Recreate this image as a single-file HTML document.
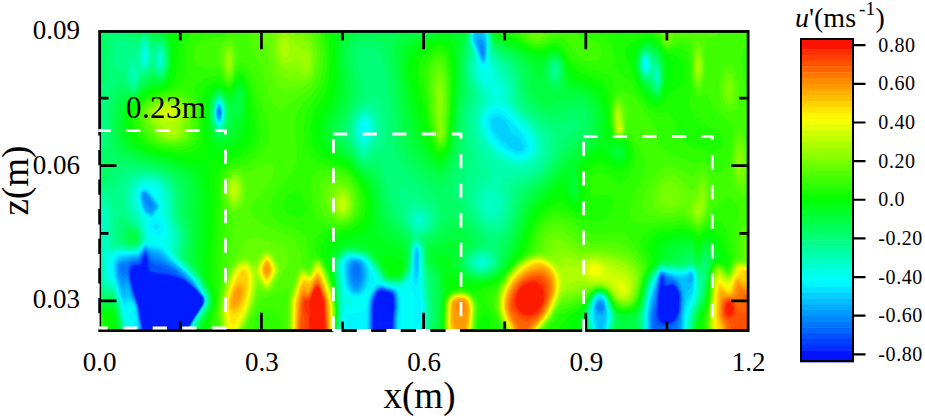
<!DOCTYPE html><html><head><meta charset="utf-8"><style>html,body{margin:0;padding:0;background:#fff;width:925px;height:419px;overflow:hidden}svg{display:block}text{font-family:"Liberation Serif", serif}</style></head><body>
<svg width="925" height="419" viewBox="0 0 925 419">
<rect width="925" height="419" fill="#fff"/>
<defs><clipPath id="pc"><rect x="100" y="32" width="648" height="298"/></clipPath></defs>
<g clip-path="url(#pc)"><rect x="100.5" y="32.5" width="647.0" height="297.0" fill="#001bff"/>
<path fill="#002eff" fill-rule="evenodd" d="M102 32.5l645.5 0 0 297 -355.3 0 .1-12 1.2-9 -.4-12 -1.4-2.5 -1.5-1 -9-2.6 -2.7 1.6 -1.8 2.4 -2.9 8.1 -.7 27 -186.5 0 6.9-12 8.2-12 1.5-4.5 -.6-3 -7.5-8.9 -6-5.2 -7.5-5 -13.5-4 -9.1-.7 -9-1.7 -1.8-3 -1.1-9 -1.6-4 -1.5 1 -1.7 6 -1.2 1.5 -6.1 .8 -3 1.4 -1.4 2.3 -.5 3 .5 6 1.9 9 6.8 22.5 3.1 19.5 -41.9 0 0-297zM661.6 280l.1 4.5 -1.9 4.5 -.9 4.5 -1 19.5 1.4 6 1.1 1.9 3 1.9 4.5 .2 3-.8 4.5-4 3-6.7 .6-15 -2.1-6.8 -1.5-2.4 -3-1.8 -6 1.2 -2.1-.7 -1.9-1.5 -.5-5.8z"/>
<path fill="#0040ff" fill-rule="evenodd" d="M102 32.5l645.5 0 0 297 -354.8 0 .1-12 1.3-9 -.5-12 -1.6-3 -1.8-1.1 -9-2.5 -1.7 .6 -2.8 2.8 -3.1 7.7 -.7 6 -.3 22.5 -185.8 0 7-12 8.1-12 1.5-4.5 -.8-3.4 -6-7.5 -13.5-10.9 -15-4.9 -7.6-.5 -10.5-2.2 -1.5-3.6 -1.1-9 -1.9-4.3 -1.5 1 -3 8.2 -1.5 .8 -6 .9 -1.5 1 -1.9 2.9 -.4 3 .5 6 2.4 10.5 6.1 19.5 3.4 21 -41.6 0 0-297zM661.8 277l-1.4 3 -.2 6 -1.7 7.5 -1.2 19.5 .5 4.5 2.5 4.5 3.1 1.5 6-.1 5-2.9 2.9-4.5 1.5-4.5 .7-13.5 -.5-4.5 -2.1-4.9 -3-3.4 -3-.3 -4.5 1.1 -1.5-.7 -1.2-2.3 -.3-4.5 -1.5-1.6z"/>
<path fill="#0052ff" fill-rule="evenodd" d="M102 32.5l645.5 0 0 297 -354.3 0 .1-12 1.3-9 -.5-12 -1.4-3 -2-1.5 -9.5-2.7 -2.6 1.2 -1.9 2 -3.6 8.5 -.7 6 -.3 22.5 -185 0 6.9-12 8.1-12 1.5-4.5 -1-3.8 -7.5-8.9 -9-7.6 -4.5-2.8 -13.5-4.5 -9.1-.8 -7.9-1.6 -1.1-1.5 -.5-6 -2.3-7.5 -1.7-2.8 -1.5 1 -4 9.3 -8 2.1 -2 2.4 -.7 3 .5 7.5 3.3 13.5 4.9 14.6 3.6 18.4 .3 4.5 -41.4 0 0-297zM660.9 277l-2.9 16.5 -1.8 21 .5 3 2.2 4.7 4.5 2.4 6-.3 3-1.3 2.9-2.5 2.6-4.5 1.4-4.5 .6-13.5 -.4-4.5 -2.6-5.9 -3-3.3 -3-.3 -4.5 1 -.9-.5 -.9-1.5 -.9-6 -1.8-1.2z"/>
<path fill="#0064ff" fill-rule="evenodd" d="M102 32.5l645.5 0 0 297 -353.9 0 .2-12 1.2-9 -.4-12 -1.2-3 -1.7-1.6 -10.5-3.1 -3 1.4 -1.7 1.8 -3.9 9 -.7 6 -.3 22.5 -184.3 0 15-24 1.4-4.5 -.4-3 -6.7-8.6 -12-10.4 -21.4-11 -11.7-4.6 -1.5-1.8 -3-8 -1.5-1.6 -1.5 .9 -4.5 9.3 -6 1.5 -3 1.8 -1.3 2.5 -.5 3 .7 7.5 2.1 9 6.7 21 3.4 21 -41.1 0 0-297zM661.3 275.5l-1.5 3 -2.1 13.5 -1.4 15 -1.5 7.5 .7 6 1.9 4 3 1.5 7.5-.1 6-2.7 3-3.8 2.6-6.4 .9-13.5 -.5-6 -2.3-6 -2.2-3.1 -3-1.7 -6 .9 -1.9-6.6 -1.1-1.5 -1.5-.5z"/>
<path fill="#0076ff" fill-rule="evenodd" d="M102 32.5l645.5 0 0 297 -77.8 0 5.7-5.8 3.8-7.7 1.2-6 .4-15 -1.9-6 -3.5-5.8 -3-1.9 -4.6 .2 -3.6-6 -2.3-1.2 -1.5 1.2 -1.1 3 -2.4 15 -1 10.5 -3 11.5 0 8.8 .8 5.2 -259.6 0 .1-12 1.3-10.5 0-7.5 -.8-4.5 -3-3.6 -10.5-3.1 -3 1.3 -2.3 2.4 -3.8 9 -.7 6 -.2 22.5 -183.7 0 15.7-25.5 .7-4.5 -1.2-3 -6.1-7.5 -7.5-7.1 -16.5-12.3 -9.1-4.6 -12-4.3 -1.5-1.5 -3-7.1 -1.5-1.2 -1.5 .9 -4.5 8.5 -7.5 2.2 -3 2.1 -1.3 4.9 .6 6 2.8 12 6.9 21.1 3.4 20.9 -40.9 0 0-297z"/>
<path fill="#0089ff" fill-rule="evenodd" d="M102 32.5l645.5 0 0 297 -70.3 0 .2-4.5 3.6-15 .5-12 -.7-6 -2.5-6 -2.9-4.4 -3-2 -4.5-1.2 -4.4-4.4 -1.6-.4 -1.5 1.1 -1.5 3.8 -4.4 27 -2.7 9 -.3 9 .7 6 -257.7 0 .1-10.5 1.4-12 -.8-12 -1.8-3 -1.7-1.2 -10.5-3 -3 1.2 -2.9 3 -3.6 9 -.7 6 -.3 22.5 -182.9 0 15.6-25.5 .7-4.5 -1.2-3 -4.8-6.3 -7.5-7.8 -13.5-11.5 -4.5-3.2 -10.6-5.5 -10.5-3.9 -1.5-1.6 -2.5-5.2 -2-1.6 -1.5 .9 -4.5 8 -9 2.5 -4.5 3.1 -4.5-.2 -1.6 .8 -.5 1.5 .6 4.7 1.5 3.4 1.5 1.2 3-1.8 1.5 1.8 4.7 17.7 4.4 10.5 4.5 25.5 -40.6 0 0-297zM218.7 110.5l-.3 3 .9 1.5 .5-3 -.7-2.3zM353.2 265l-1.3 4.5 .8 5.5 1.5 2.7 1.5 1.1 1.5 0 1.5-1.2 1.5-5.1 -.8-6 -2.2-2.5 -1.5-.4 -1.5 .5zM599.7 307l-.3 1.5 1 .5 .5-.5 -.5-1.8z"/>
<path fill="#009bff" fill-rule="evenodd" d="M102 32.5l645.5 0 0 297 -68.3 0 3-30 -.1-4.5 -1.1-4.5 -3.3-7.5 -2.3-3 -2.3-1.5 -5.2-1.7 -4.5-3.4 -1.5-.4 -1.5 1 -1.9 4.5 -4.1 21.1 -3.6 14.9 .4 15 -256.2 0 .1-10.5 1.3-12 -.7-12 -1.6-3 -2.4-1.7 -10.5-3 -3 1.1 -2.4 2.1 -2.6 4.5 -1.6 4.5 -1.1 7.5 -.3 22.5 -182.2 0 6.9-12 8.1-12 1.4-4.5 -1.2-4.5 -12.6-14.9 -13.3-12.1 -18.3-11.4 -7.5-2.6 -4.2-5.5 -1.8-1 -1.5 .9 -4.5 7.6 -19.5 5.7 -1.5 1.3 -.5 2 .5 6.3 3 7.1 1.5 1.1 3-2.4 1.5 1.3 1.5 3.8 2.6 9.8 4.9 11.3 4.3 24.7 -40.3 0 0-297zM479.7 44.5l.6 6.9 1.5 3.7 1.5 .6 .7-3.7 -.7-6.1 -1.5-2 -1.5-.2zM218.3 109l-.7 1.5 0 3.9 1.5 2.6 .4-.5 1.1-2.2 .1-2.3 -1.6-3.9zM143.9 194.5l-.5 1.5 .6 3 3 6.3 3 2.2 1.5 .2 1.2-1.2 -2.9-7.5 -4-4.5 -1.8-.2zM354.4 262l-1.7 .9 -1.6 2.1 -1 4.5 .1 4.5 2.5 9 2.5 3 2 .2 3-3.6 1.5-3.8 .6-6.3 -1.7-7.5 -1.9-2.1 -3-1zM598.9 304l-1.5 2 0 3.4 1.5 1.8 1.5 .4 1.5-.6 1.3-2.5 -.7-3 -2.1-1.8 -1.5 .3z"/>
<path fill="#00adff" fill-rule="evenodd" d="M102 32.5l645.5 0 0 297 -67.1 0 2.5-31.5 -1-7.5 -2.9-7.5 -2.1-3.1 -3-2.2 -6-2 -6-3.3 -1.5 .9 -1.8 3.7 -6.7 27 -2.2 12 .6 13.5 -254.8 0 .1-10.5 1.3-10.5 0-9 -.7-4.5 -3-4.5 -12-3.7 -3 1 -3 2.7 -1.9 3 -2.2 6 -1 6 -.4 24 -181.4 0 6.8-11.8 8.1-12.2 1.4-4.5 -1.1-4.5 -12.9-16.1 -12-11.2 -19.6-14.1 -3-1.4 -4.5-.9 -4.5-4.1 -1.5-.6 -1.5 .9 -4.5 7.2 -10.9 2.8 -8.6 3 -2.1 1.5 -.9 3 .9 9 3.6 9.6 1.5 1 3-3.1 1.5 .6 3.8 11.4 4 7.5 2 7.5 3.1 19.5 -39.9 0 0-297zM477.9 40l-.7 3 1.6 6.4 3 8 1.5 1.3 1.5-5.2 -.3-9 -1.2-3.2 -1.5-1.4 -3-.5zM218.4 107.5l-.9 1.5 -.4 4.5 .5 3.1 1.5 1.7 .3-.3 1.2-1.5 .5-4.5 -.5-3.4 -1.5-1.8zM143.6 193l-1.1 1.5 -.2 3 2.8 10.5 2.3 3 2.6 1.5 1.5-.1 3.6-4.4 .7-1.5 -.6-1.5 -6.3-9 -3.2-3 -1.7-.3zM351.5 262l-1.9 3 -.9 4.5 1 10.7 1.5 4.5 3 4.3 3 .4 1.5-.8 3-4.5 1.8-5.6 .3-4.5 -.7-6 -1.4-3.7 -2-2.3 -4-1.4 -3 .6zM598.1 302.5l-2.1 4.5 .3 3 2.6 3.1 1.5 .5 1.5-.4 2.1-3.2 -.2-4.5 -1.9-3.1 -1.5-.8 -1.5 .3z"/>
<path fill="#00bfff" fill-rule="evenodd" d="M102 32.5l645.5 0 0 297 -66 0 .3-10.5 2.2-22.5 -.3-4.5 -1.4-4.5 -1.5-4.5 -3.4-4.5 -15.5-6.7 -1.5 .9 -2.2 4.3 -6.8 24 -2.4 15 .5 13.5 -253.5 0 .2-12 1.2-9 -.6-13.5 -1.4-3 -2.2-2.1 -12-3.7 -3 .9 -3.7 3.4 -4 9 -.9 6 -.4 24 -180.6 0 6.5-11.4 8.4-12.6 1.3-4.5 -1.1-4.5 -11.6-15.7 -12-11.5 -12-8.8 -8.5-7.5 -3.6-1.5 -6-1.2 -3-2.6 -1.5-.4 -1.5 .9 -4.5 6.9 -3 1.2 -10.5 2 -4.5 1.5 -4.5 3.2 -.8 3.5 .7 9 4.6 14.1 3 4.1 1.3-1.7 .2-3.7 1.5 .3 .9 3.4 6.6 10.7 2 7.3 3 19.5 -39.5 0 0-297zM477.9 35.5l-2.1 2 -.3 4 6.3 17.8 1.5 1.2 1.5-2.4 .6-4.6 -.2-10.5 -1.9-5.3 -1.5-1.6 -3-1.1zM218.8 106l-1.4 1.5 -.7 6 .9 4.6 1.5 1.3 1.5-1.4 .9-6 -.9-4.8 -1.5-1.4zM142.3 193l-.8 4.5 2.4 10.5 1.9 3 2.7 2 3 .7 4.9-5.7 .5-1.5 -.5-1.5 -6.4-9 -4.5-4 -1.5-.4 -1.5 1zM351.3 260.5l-2.5 3 -1.2 4.5 -.1 6 1.1 7.5 1.6 4.5 2.5 3.9 3 1.5 3-.7 3-3.2 2.4-6 1.1-6 -.5-6 -1.5-4.9 -3-3.6 -3-1.2 -4.5 .1zM689.2 275.5l-1.9 3 -.2 3 1.9 1.9 1.5-.7 1.5-2.7 .3-3 -.3-1.5 -1.5-.8zM597.7 301l-1.8 3 -.7 3 .7 5 1.5 2.9 1.5 1 3 .3 1.5-.9 1.6-5.3 -.3-4.5 -2.8-4.8 -3-.6z"/>
<path fill="#00d1ff" fill-rule="evenodd" d="M102 32.5l373.3 0 -1.2 6 .3 3 6.8 18 2.1 2.2 1.9-2.2 1-15 -2.8-12 264.1 0 0 297 -65.2 0 .7-15 3-20.5 .7-2 3.8-4.2 1.5-3.7 1.2-5.6 -.3-3 -.9-1.9 -1.5-.4 -6 4.7 -3.1 .8 -19.5-7.4 -1.8 1.2 -2.3 4.5 -7.7 25.5 -1.8 13.5 .4 13.5 -46.5 0 3.2-13.5 .4-7.5 -1.5-6 -2.2-3 -1.7-.8 -1.5 .1 -2.4 2.2 -1.3 3 -.9 4.5 .7 6 1.8 4.5 2 10.5 -202.1 0 .1-10.5 1.3-12 -.2-9 -1-4.5 -1.9-3 -1.8-1.3 -12-3.5 -3 .7 -3.3 2.6 -2.1 3 -2.9 7.5 -1.4 15 -.1 15 -179.5 0 6.2-10.9 8.6-13.1 1.3-4.5 -1-4.5 -13-18 -10.9-10.2 -10.1-7.8 -7.5-7.5 -5-2.9 -7.5-1.3 -4.5-2.4 -1.5 .9 -4.5 6.6 -1.5 1 -15 2.3 -3 1.1 -3.5 3.7 -1.2 4.5 .7 9 5.5 18.1 3 4.5 3-1.7 1.5 0 4.5 4.9 1.5 2.7 1.5 5.7 3.1 19.8 -39.1 0 0-297zM217.6 106l-1.2 4.5 .3 6 .9 2.7 1.5 1.2 1.5-1.1 1.2-4.3 -.2-6 -1-3 -1.5-1.2 -1.5 1.1zM142.4 191.5l-1.5 3 -.2 3 3.1 12 1.7 2.3 3.3 2.2 2.7 .7 1.5-.9 4.3-5.8 .1-3 -5.2-7.5 -4.1-4.5 -2.6-1.9 -3 .3zM415.6 251.5l-.7 9 .3 7.5 .5 4.5 1.5-1.2 .8-6.3 0-10.5 -.8-3.8 -1.5 .3zM351.7 259l-2.6 1.5 -2.3 4.5 -.7 6 .7 7.5 1.4 6 3 5.8 3 2.3 3 .2 4-2.3 2.7-4.5 2.3-7.5 0-7.5 -1.5-6 -3-4.1 -4.5-2.1 -4.5 0z"/>
<path fill="#00e4ff" fill-rule="evenodd" d="M102 32.5l371.9 0 -.6 6 .4 3 7.4 19.5 2.2 1.9 2.2-1.9 1.1-9 .1-9 -1.8-10.5 262.6 0 0 297 -64.3 0 .5-13.5 1.3-9 1.5-6 4-6.5 1.5-4.1 1.8-10.4 -.3-5.3 -1.5-2.4 -1.5-.2 -6 3.4 -4.6 .6 -12-2.9 -6-2.5 -1.5 .8 -2.4 4 -4.6 12 -3.5 12.4 -2.3 16.1 .4 13.5 -43.6 0 2.5-13.5 -.6-9 -2-6 -2.4-2.8 -1.5-.6 -2 .4 -2.5 2.5 -2.1 6.5 0 9 3 13.5 -199.4 0 .1-10.5 1.3-12 -.1-9 -1-4.5 -1.8-3 -2.7-2 -12-3.5 -3 .5 -4.3 3.5 -2.7 4.5 -1.6 4.5 -1.4 7.5 -.6 24 -178.4 0 5.9-10.4 8.9-13.6 1.3-4.5 -1-4.5 -12.2-18 -10.5-9.9 -9.9-8.1 -8.2-8.6 -6-3.5 -7.5-1 -4.5-1.9 -1.5 1 -4.5 6.3 -1.5 1 -6 1.3 -10.5 .6 -3 1 -3 4.5 -1 3.8 .6 10.5 4.9 17.5 3 6.9 1.5 2 4.5-2.8 4.5 3.7 1.5 3.3 3.6 23.4 -38.1 0 0-297zM218.2 104.5l-2 4.5 -.2 6 1.6 5.3 1.5 1.1 .6-.4 1.9-3 .7-6 -1.2-6 -2-2.1zM492.5 118l-1.7 3 .5 4.5 2.5 5.8 4.5 5.6 12.3 11.1 6.8 3 3.4-.1 2-1.4 1.2-3 -.7-3 -2.5-4 -9.3-6.5 -5.6-10.5 -2.7-3 -4.9-2.4 -4.5 .1zM143.8 190l-2.3 1.5 -1.5 4.5 2.4 12 3.1 4.8 3 1.9 3 1 1.5-.7 5.2-7 0-3 -8.2-11.2 -3-2.7 -3-1.1zM415.2 250l-1 7.3 .1 16.7 1.4 5.2 1.5-1.5 1.5-8.6 .1-14.6 -.8-4.5 -.8-1.3 -1.5 .2zM348.8 259l-2.6 3 -1.3 6 .3 7.5 1.8 9 2.7 5.9 3 2.9 3 1 4.5-1.2 3.8-4.1 3-7.5 1-6 -.8-7.5 -3-6 -3.7-3 -6.3-1.3 -4.5 .8z"/>
<path fill="#00f6ff" fill-rule="evenodd" d="M102 32.5l371.1 0 -.5 6 .4 3 7.3 19.6 1.5 2.3 1.5 .7 2.3-1.6 1-3 .7-15 -1.6-12 261.8 0 0 297 -63.5 0 .7-13.5 1.3-7.2 1.5-4.3 4.5-8.2 1.4-5.8 1.2-12 -.7-4.5 -1.9-2.7 -1.5-.2 -4.5 2.5 -6.1 .9 -12-2.1 -6-2.3 -2.8 2.4 -2.2 4.5 -4 9.4 -3.6 13.1 -2.3 16.5 .2 13.5 -41.6 0 2.3-12 -1-10.5 -2-6.2 -2.2-2.8 -2.3-1.2 -3 .9 -1.5 1.6 -2.7 7.7 -.7 9 3 13.5 -197 0 .1-10.5 1.3-10.5 -.2-10.5 -.9-4.5 -1.7-3 -2.4-2 -15-4.3 -3 .8 -4.2 4 -3.9 9 -2.3 16.5 -.1 15 -176.6 0 5.5-9.9 9.2-14.1 1.2-4.5 -.8-4.5 -11.7-18 -21.4-19.5 -8.1-9.1 -6-3.4 -7.5-.5 -4.5-1.5 -7.5 8.3 -6 1.3 -12 .3 -3 1.1 -2.3 3.5 -1.2 6 0 6 .9 6 5.6 18.8 3 7.5 1.5 2.9 1.5-.2 1.5-2.8 1.5-1.3 3 1.3 1.7 2.3 1.3 4.2 .2 6.3 2 13.5 -36.7 0 0-297zM217.3 104.5l-1.7 6 .5 7.2 1.5 3.7 1.5 .9 1.8-1.3 1.5-4.5 0-7.5 -1.8-5 -1.5-.9 -1.5 .9zM493.6 113.5l-2.8 1.7 -1.5 1.9 -1.3 5.4 2 7.5 3.8 6.4 7.8 8.6 8.1 6 6.6 2.7 3 .4 3-.6 3.3-2.5 1.6-4.5 -1.6-6 -3.3-5.5 -7.5-8.9 -10.5-9.8 -6-3 -4.5 .1zM141.6 190l-1.6 3 -.7 3 3 13.5 1.7 2.8 3 2.4 3 1.8 3-.1 6-8.4 0-3 -4.8-7.5 -5.2-6 -3.5-2.2 -3 0zM153.8 224.5l-.8 1.5 .9 3 2.1 1.1 1.5-.4 1.4-2.2 0-1.5 -1.4-2 -3-.1zM415.1 248.5l-1.1 4.5 -.9 25.5 1.1 5.3 1.5 1.7 1.5-1.2 2.1-11.8 .1-18 -.7-4.9 -1.5-2.2 -1.5 .1zM349.1 257.5l-3.7 3 -1.7 4.5 0 7.5 1.6 10.5 2.1 6 3.2 4.5 3.6 2 4.5-.1 4.5-2.7 3.5-5.2 3.1-9 -.1-7.5 -3.1-7.5 -4.3-4.5 -6.6-2 -6 .3z"/>
<path fill="#00fff6" fill-rule="evenodd" d="M102 32.5l370.4 0 .1 9 3.2 7.5 4.4 13.5 1.7 2.5 1.5 .5 1.5-.3 1.5-1.8 1-3.9 .5-15 -1.4-12 261.1 0 0 297 -62.6 0 1.1-15 1.9-6 4.9-10.5 1.5-6 .9-12 -.7-6 -2.5-3.6 -1.5-.1 -6 2.6 -4.6 .3 -12-1.6 -6-2.1 -2.2 1.5 -2.6 4.5 -4.7 10.5 -2.5 8.7 -1.6 6.3 -2 15 .1 13.5 -39.9 0 2.3-13.5 -1.4-9 -2.5-7.3 -1.5-1.9 -3-1.7 -2.3 .4 -2.2 1.8 -1.6 2.7 -1.7 6 -1.1 9 3 13.5 -193.2 0 .7-21 -.5-12 -1.3-4.5 -2.8-3 -2.7-1.5 -19.5-6 -3.9-12 -5.8-9 -5.3-3.3 -7.5-1.2 -3 .3 -3 1.2 -2.8 3 -1.6 4.5 .9 13.5 2.6 10.5 3.9 5.9 4.5 2.5 6-.2 6-3.7 1.3 1.5 -2.8 14.7 -1.5 1.8 -13.5 2.4 -1.8 .6 -1.1 1.5 -.6 13.5 -156.2 0 6.6-11.8 8-12.2 1.2-4.5 -.8-4.5 -11.2-18 -20.7-19.5 -9.6-11.5 -6-3.5 -7.5 .4 -3-1.1 -1.5 .1 -1.5 1.2 -4.5 6.2 -3 1.6 -6 .9 -10.5-.3 -3 .8 -1.5 .9 -1.9 2.8 -1.4 6 -.3 6 .9 6 12.5 37.5 .7 4.4 1.5 1.9 3-2.8 1.9 4 1.8 9 -33.7 0 0-297zM644.6 62.5l-.2 3 1.2 1.5 1.1-3 -1.3-2.6zM217.7 103l-2.2 6 0 7.5 2.1 5.9 1.5 .8 1.5-.7 1.9-4.5 .4-7.5 -1.5-6 -2.3-2.3zM493.1 109l-2.3 1.6 -3 3.6 -1.5 3.2 -.7 3.6 .4 4.5 1.4 4.5 4 7.5 8.4 9.5 9 6.5 4.5 2 4.5 1 4.5-.3 3-1.2 3.9-4 1-4.5 -.9-4.5 -3-6 -8.5-10.5 -14.6-15 -4.9-2.4 -4.5 .6zM363.1 127l.1 4.4 1.5 .2 .8-1.6 0-3 -.8-1.2 -1.5 .9zM141.9 188.5l-1.6 1.5 -1.8 6 3 13.5 2.5 3.9 6.6 5.1 .2 1.5 -1.6 3 -.4 3 .7 3 2 3.8 4.5 3.2 3-.3 1.5-.9 2.6-4.3 -.2-6 -2.4-4.4 -4.8-3.1 .6-3 3.7-6 0-3 -6.2-10.5 -3.8-4.4 -4.5-2.2 -3 .2zM415.2 247l-1.6 4.5 -.7 18 -1.8 15 4.4 16.5 -.3 6 -2.3 7.5 0 3 2.1 7.5 .7 1.2 1.5 .1 3-5.6 1.3-6.2 -1.1-15 -1.5-7.5 1.4-21 -.4-18 -1.2-5.1 -1.5-1.7 -1.5 .1zM129 306.2l1.5-.3 1.5 1.8 .4 2.3 -.7 3 -1.2 1.4 -1.5-.7 -1.5-2.2 1.1-4.5z"/>
<path fill="#00ffe4" fill-rule="evenodd" d="M102 32.5l369.9 0 0 9 3.9 9.4 3.8 13.1 3.4 6 .3 3.2 1.5 2.2 1.5 .1 .7-2.5 -.9-4.5 1.9-7.5 .3-16.5 -1.4-12 260.6 0 0 297 -61.7 0 1.6-15 6.1-14.4 1.7-6.6 .7-13.5 -.9-6.3 -1.5-2.9 -1.5-1.3 -1.5-.1 -6 2.5 -4.6 .2 -12-1.2 -6-2 -1.5 .7 -2.2 2.9 -7 15 -3.4 13.5 -2.1 13.5 0 15 -38.4 0 2-9 .2-6 -3.4-13.5 -2.7-4 -3-1.6 -3 .8 -1.9 1.8 -1.7 3 -1.7 6 -1.4 9 3 13.5 -172.6 0 2.1-13.8 -.2-11.7 -2.2-15 -.5-37.5 -1.3-4.5 -1.8-1.9 -1.5 .2 -1.4 1.7 -.9 3 -1.1 19.5 -2.2 9 -3.6 6 -2.8 2.2 -3 .9 -13.5-2.7 -7.4-3.4 -10.6-18 -3-3.5 -3.2-2.5 -4.6-1.5 -7.2-.7 -4.5 1.1 -3 2.6 -1.7 3 -.9 4.5 1.9 18 2.7 9 6.7 9 -.7 1.5 -5 4.5 -3 5.1 -1.5 15.9 -151.8 0 6.2-11.2 8.4-12.8 1.1-4.5 -.3-3 -1.9-4.5 -8.8-14.5 -20.6-20 -9.1-13.5 -1-4.5 2-6 .2-6 -1.8-7.5 -5.2-9 1.9-6 -2.5-7.5 0-6 -1.1-3 -2.4-3 -2.5-1.6 -4.5-.9 -6 1.6 -2.8 2.4 -2.2 6 -.1 3 3.1 12 6.1 9 -.6 4.5 .6 4.5 1.9 5.6 2.9 4.9 0 3 -1.4 .8 -4.5 .2 -6 7.8 -3 1.7 -6 .9 -10.5-.6 -4.6 1.2 -3 3 -2.9 6.7 -1.6 .8 -1.3 4.5 1 4.5 3.4 3.7 4.5 9.7 5.4 16.6 5.1 19.3 1.5 2.5 3 1.6 1.1 3.6 -31.1 0 0-297zM645.1 59.5l-1.4 1.5 -.3 4.5 1.2 3 .8 .7 1.4-.7 .9-3 -.1-3 -.7-2 -1.5-1.2zM218.9 101.5l-1.3 .6 -1.9 3.9 -.7 9 .7 4.5 1.9 3.9 1.5 .8 1.5-.7 2.3-5.5 .4-7.5 -1.3-6 -1.4-2.3 -1.5-.8zM492.6 106l-3.3 2.5 -3 3.6 -1.6 2.9 -1.2 4.5 0 4.5 1.3 5.8 4.6 9.2 4.4 5.8 4.5 4.5 10.5 7.1 9 2.5 4.5-.2 4.5-1.5 4.5-4.2 1.8-5 -.4-6 -2.9-6.6 -24-27 -6-3.4 -3-.3 -3 .7zM363.7 121l-2.7 3 -1.1 6 .3 3 1.5 3.6 1.5 1.2 1.5-.2 3-4 1.2-6.6 -1.2-4.3 -1.5-1.6 -1.5-.4z"/>
<path fill="#00ffd1" fill-rule="evenodd" d="M102 32.5l369.3 0 -.2 7.5 6.1 18 2 18 2.6 4.7 8.1 7.3 5.7 10.5 -.6 1.5 -8.7 8.6 -3.8 6.4 -1.1 7.5 1.8 9 6.1 11.3 9 9.6 10.5 6.5 6 1.8 4.5 .4 7.5-1.5 5.5-4.1 2.8-6 .4-4.5 -.5-4.5 -2.2-5.6 -6-8.5 -12-12.9 -14.9-13.5 -.6-1.5 1.8-4.5 0-3 -1.2-3 -4.6-6.7 -6-19.2 -.7-19.1 -1.1-10.5 260 0 0 297 -60.8 0 2-15 5.5-13.5 2-7.5 .4-13.5 -1.5-7.5 -1.6-2.7 -1.5-1.1 -1.5-.1 -6 2.3 -4.6 .2 -12-1 -6-1.8 -2 1.2 -2.2 3 -4.9 9 -2.3 6 -3.3 13.5 -2.2 13.5 -.2 15 -36.7 0 2-9 .1-6 -3.8-13.9 -3-4.3 -3-1.4 -3 .7 -2.5 2.4 -2.1 4.5 -1.6 6 -1.2 7.5 3 13.5 -170.2 0 1.7-18 -.5-12 -1.8-10.5 -1.2-36 -1.2-6 -2.6-2.9 -1.5 .1 -1.2 1.3 -1.3 3 -1.4 21 -1.6 6 -3.6 6 -2.9 2.7 -3 1.4 -3 .3 -9-1.3 -6.9-3.1 -2.5-3 -9-15 -4-4.5 -3.1-2.2 -4.5-1.4 -7.5-.9 -4.5 .9 -3 2.3 -2.6 4.3 -.9 4.5 .6 10.5 3.2 22.5 -2.1 15 -1 15 -149.9 0 5.6-10.6 8.1-11.9 1.6-4.5 -.1-4.5 -2.7-6 -8.1-13.5 -19.6-19.5 -5.1-7.5 -1.7-6 1.4-7.5 -.1-4.5 -2.1-9 -4.5-13.5 .1-13.5 -.7-4.5 -2-4.5 -3.6-4 -4.5-2.4 -4.5-.7 -5.2 1.1 -4.1 3 -2.7 4.5 -1.2 6 .6 4.5 2.3 7.5 4.3 9 4.3 18 .1 3 -.7 1.5 -5.2 7.6 -3 2.8 -6 1.5 -15-.4 -7.5 3.7 -3-1.4 -1.5 5.3 -.2 12.4 1 6 .7 1.7 4.5 1.9 4.5 7.8 4.7 14.1 4.3 18.6 3 8.4 -27 0 0-297zM143.8 49l-1 4.5 .2 4.5 1 3.2 1.8-.2 1.2-3.5 0-5.4 -1.5-3.9 -1.5 .3zM645 58l-1.1 .7 -.9 2.3 -.4 4.5 1.3 4.2 1.5 1.1 1.5-.5 1.6-3.3 0-4.5 -1.6-3.9 -1.5-.8zM217.4 101.5l-1.6 3 -1 4.5 .2 9 1.1 3.9 1.5 2.5 1.5 .7 1.9-1.1 2.4-6 .1-9 -1-4.5 -1.7-3 -1.7-.9 -1.5 .7zM363.1 118l-2.9 2.9 -1.3 3.1 -.8 7.5 2.1 7.7 1.5 2.1 1.5 .8 1.5-.3 2.7-2.8 1.8-3.3 1.3-4.2 .5-4.5 -.8-4.5 -1.6-3 -2.4-1.8 -3 .2z"/>
<path fill="#00ffbf" fill-rule="evenodd" d="M102 32.5l368.8 0 .1 9 3.1 7.5 1.9 7.5 -.3 13.5 .8 6 2.4 5.7 6.7 9.3 2.6 7.5 -.9 4.5 -5.6 9 -1.9 6 0 7.5 1.9 7.5 6.6 12 8.6 9.3 10.5 6.6 6 2 6 .6 4.5-.5 4.5-1.6 3-1.8 3-3.1 2.2-4 1.1-4.5 -.8-9 -2.6-6 -5.9-8.4 -18.5-18.6 -3.3-4.5 -.2-10.5 -1.2-4.5 -6.8-11.8 -8.2-16.7 -2.2-25.5 259.6 0 0 297 -59.9 0 2-13.5 6.1-16.5 1.9-10.5 -.2-9 -1.1-6 -2.8-5.2 -3-1.1 -4.5 1.9 -4.6 .5 -13.5-.8 -6-1.6 -3 2.1 -6.8 11.7 -2.6 7.5 -5.2 25.5 -.3 15 -35.2 0 2-9 .1-6 -4.5-14.9 -3-3.9 -3-1.4 -3 .7 -3.1 3 -2 4.5 -2.4 9 -.6 4.5 3 13.5 -168.3 0 1.5-13.5 -.2-12 -1.9-15 -1.9-37.5 -1.3-5 -3-3.5 -1.5 .1 -1.5 1.5 -1.5 3.9 -1.3 19.5 -1.7 6.5 -4.7 7 -2.8 2.2 -3 1 -10.5-.9 -5.4-2.3 -2.7-3 -9.3-15 -3.9-4.5 -4.2-3 -6-1.6 -7.5-.6 -3 .7 -3.9 3 -2.6 4.5 -.8 4.5 2.6 33 -1.9 30 -148.5 0 5-9.7 8.5-12.8 1.7-6 -.6-4.5 -10-18 -19-19.5 -4.1-6 -1.2-6 1.6-6 .3-4.5 -6.7-24 -.3-15 -1.4-6 -2.2-4.5 -4.3-4.5 -4.4-2.4 -6-1.1 -6 1 -4.5 2.8 -3.9 5.7 -1.6 6 -.1 4.5 1.1 6 7.5 17 3.8 11.5 -.3 6 -3.5 6.6 -3 2.9 -4.5 1.4 -15-.9 -7.5 1.9 -2.3-1.4 -2.2-4.2 -1.5-1.6 -1.4 20.8 1.4 15.6 1.5 2.1 4.5 .8 4.5 7.1 4 11.9 6.1 27 -25.1 0 0-297zM143.5 46l-1.8 6 .2 7.5 2.1 5 2-.5 1.8-4.5 .3-7.5 -1.1-4.7 -1.5-2.2 -1.5 .2zM158.7 55l-.7 4.5 1 4.5 1.5 .8 1.4-2.3 .1-6.1 -1.5-2.8 -1.5 .7zM645.3 56.5l-1.4 .8 -1.2 2.2 -.7 6 1.9 5.7 1.5 1 1.5-.3 2.2-3.4 .4-4.5 -1.1-4.8 -1.5-2.2 -1.5-.5zM218.4 100l-1.7 1.5 -1.4 3 -.9 4.5 -.1 6 1.8 8.2 1.5 2.2 1.5 .7 1.5-.6 2.5-4.5 1.1-9 -1.9-9 -1.7-2.6 -1.5-.7zM363.9 115l-2.6 1.5 -2.6 3.4 -1.5 4.1 -.7 6 .7 6 2.1 6 2.4 3.2 1.5 .7 1.5-.2 3-2.9 3-5.3 1.9-6 .4-4.5 -.5-4.5 -1.9-4.5 -2.9-2.7 -3-.5zM489.6 202l.1 3 1.1 1.3 1.5-.1 1-2.7 -1-2.2 -1.5-.5zM416.4 218.5l-.7 3 1.5 2.7 1.5 0 2.2-1.2 1.1-1.5 -.4-3 -2.9-1.4 -1.5 .5zM104.9 220l.1 15.1 0-15.6zM480 259l-2.3 1.5 -.7 3 1.8 2 4.5 .3 2.7-2.3 -.2-3 -2.5-1.7 -3 .1z"/>
<path fill="#00ffad" fill-rule="evenodd" d="M102 32.5l368.4 0 0 9 2.4 6 1.6 7.5 -1.1 13.5 .8 7.5 2.1 6 5.9 10.5 1.4 6 -.5 4.5 -4 9 -1.6 6 0 7.5 1.7 7.5 3.2 7.5 3.5 6 9.5 11.3 6 4.9 4.5 2.6 4.5 1.5 6 .6 6-.5 4.5-1.3 4.5-2.4 3.7-3.2 3-4.5 1.6-4.5 .5-4.5 -.6-6 -3-7.5 -5-7.5 -18.7-19.5 -2.1-3 -.8-3 -.4-10.5 -2.2-7.9 -16.5-26.4 -2.4-22.7 259.1 0 0 297 -59 0 2.2-13.5 6.4-18 1.6-10.5 -.4-7.5 -1.3-6 -3.5-6.1 -3-1.1 -4.5 1.8 -4.6 .6 -13.5-.8 -6-1.3 -3.3 2.4 -6.6 10.5 -2.7 7.5 -5.8 27 -.3 15 -33.7 0 2-9 0-6 -4.7-15 -3.4-4.4 -3-1.3 -3.9 1.2 -2.7 3 -4.2 12 -.9 6 2.9 13.5 -166.4 0 1.4-13.5 -.3-13.5 -1.9-13.5 -2.3-37.5 -1.6-6 -3.3-3.7 -1.5 .1 -1.5 1.5 -2.1 5.1 -1.1 18 -1.3 6.1 -4.6 7.4 -2.9 2.5 -3 1.2 -10.5-.7 -4.5-1.8 -2.5-2.7 -10.6-16.5 -4.2-4.5 -3.7-2.3 -7.5-1.7 -6-.4 -4.5 1.3 -3 2.7 -2.8 4.9 -.8 4.5 2.3 34.5 -1.5 28.5 -147.1 0 4.4-9 8.8-13.5 1.5-4.5 0-4.5 -2.3-6 -7.7-13.5 -18.5-19.5 -3.7-6 -.6-4.5 2.1-7.5 .1-6 -6.4-19.5 -.7-16.5 -1-6 -2.5-6 -3.6-4.5 -3.2-2.5 -4.5-2.1 -6-1.1 -4.5 .4 -4.5 1.5 -3.3 2.3 -2.7 3 -2.3 4.5 -1.6 9 1.2 9 2.7 7.1 7.5 12.8 2.7 8.6 -.8 6 -3.4 5.9 -3 1.9 -4.5 .9 -13.5-1.4 -6 .7 -1.9-.5 -1.8-3 -.6-4.5 -.4-21 -1.1-9 -1.7-4.7 -4.5 2.7 0-176.5zM143.7 43l-1.2 1.5 -1.5 4.5 -.6 9 1.9 7.5 1.7 1.8 1.5-.1 1.5-1.7 1.5-4.1 .7-7.9 -2-9 -1.7-1.9 -1.5 0zM160.5 50.5l-1.5 .3 -1.5 2.4 -.9 6.3 1.3 6 1.1 1.8 1.5 .4 1.8-2.2 1.1-6 -.8-6 -2.1-3zM643.5 56.5l-1.1 1.8 -.9 4.2 .9 7.4 1.5 2.6 1.5 1 1.5 0 1.5-1.3 2-5.2 -.5-6 -1.1-3 -1.9-2.4 -1.5-.4 -1.5 .7zM133.4 71.5l-1 4.5 1.1 3.8 .7-.8 .9-4.5 -1.6-3.1zM655.8 73l.1 6.7 1.5 2.2 .5-1.4 -.1-7.5 -.4-1.1 -1.5 .6zM217.1 100l-1.7 3 -1.2 4.5 0 10.5 1.1 4.5 2.3 3.9 1.5 .7 2.5-1.6 1.6-3 1.1-4.5 .1-9 -2.3-7.6 -1.5-1.9 -1.5-.6 -1.5 .6zM361.5 113.5l-2.8 3 -2.7 6 -1 6 .2 6 2 7.3 3 5.7 3 2.2 3-1.2 3.8-5 3.6-7.5 1.4-6 0-6 -1.7-6 -3.4-4.5 -3.7-1.5 -4.5 1.4zM488.1 190l-3.3 2.4 -2.2 3.6 -.9 4.5 .2 4.5 1.4 4.5 3 4.5 3 2.2 4.5 .4 3-1.7 2.6-3.9 1.2-4.5 0-6 -1.3-4.5 -2.5-4 -3-2.1 -4.5-.3zM414.8 214l-2 3 -.4 3 1.8 6.1 1.5 2 1.5 .6 6.1-2.7 1.6-1.5 1.5-3 -.6-4.5 -1-1.7 -3.1-2.2 -3-.6 -3 .8zM477.2 257.5l-1.8 1.5 -1.4 3 .3 2.5 1.4 2 4.6 1.8 3-.2 3-1.2 2-1.9 1.1-3 -1.6-4 -4.5-2 -3 .2 -3 1.2zM100.5 230.5l2.1 12 .1 27 1.4 12 .9 3.2 1.5 1.2 3-.4 3 2 3 5.3 3.8 11.2 5.2 25.5 -24 0 0-99.1z"/>
<path fill="#00ff9b" fill-rule="evenodd" d="M102 32.5l367.9 0 0 9 3 10.5 -1.5 13.5 .4 9 2 7.5 4.6 10.5 .8 4.5 -.4 4.5 -4.4 15 .1 12 1.8 7.5 4 11.6 10.4 22.9 1.2 4.5 -1.2 3 -7.4 5.9 -3.7 4.6 -2.2 6 -.4 7.5 1.7 7.5 3.1 6.2 4.5 4.9 3 1.7 3 .7 4.5-.9 3-2.4 2.7-4.2 1.8-5.4 .8-11.1 -3.2-15 .2-3 1.3-1.5 2.9-1.5 20.3-6 7.7-4.7 4.2-4.3 2.8-4.5 2.3-6 .6-6 -1.7-7.5 -4.1-7.5 -6.8-9 -14.4-15 -3.1-4.5 -1.8-15 -2.1-9 -4.7-9 -13.5-16.5 -1.2-3 -2-18 258.7 0 0 297 -58.1 0 2.7-15 6.4-18 1.4-10.5 -.6-7.5 -2.1-6 -3.7-5.7 -3-1.1 -4.5 1.9 -4.6 .6 -13.5-.7 -6-1.1 -1.5 .6 -2.4 2.5 -6 9 -3 7.5 -6.3 28.5 -.4 15 -32.1 0 2-9 0-6 -3.7-12 -2.1-4.5 -3-3.4 -3-1.2 -3 .6 -3.1 2.5 -2.5 4.5 -2.8 9 -1 6 2.9 13.5 -164.7 0 1.4-13.5 -.3-15 -1.8-12 -2.8-37.5 -1.4-6 -4.1-5.2 -1.5 0 -1.5 1.7 -2.2 5 -1.5 19.5 -1.5 6 -5.1 7.5 -4.7 2.7 -10.5-.5 -4.5-2 -11-16.7 -5.3-6 -3.2-2.4 -6-1.8 -9-.9 -4.5 1.2 -3 2.4 -3 4.7 -1.3 5.8 2.2 36 -1.2 27 -145.8 0 5-10.3 8-12.2 1.3-4.5 0-4.5 -2.8-7.5 -6.9-12 -17.7-19.5 -3-4.5 -.7-4.5 2.5-9 0-6 -6.7-19.5 -.5-16.5 -1-6 -2.3-6 -3.3-4.6 -3.1-2.9 -4.4-2.6 -9-2.2 -9 1.2 -4 2.1 -3.4 3 -2.8 4.5 -1.8 6 -.7 6 .5 6 3.3 10.5 7.4 10.3 3.3 6.2 1.4 6 -.6 4.5 -1.3 3 -2.7 3 -6.1 1.8 -19.5-2.2 -2-2.6 -.4-25.5 -1.2-10.5 -1.5-4.5 -2.4-3.9 -4.5 1.1 0-168.2zM142.5 41.5l-2.8 7.5 -.8 7.5 .3 6 .8 3 2.5 3.6 1.5 .7 1.5-.2 1.5-1.5 2-4.1 1.2-6 -.5-9 -2.7-7.4 -1.5-1.3 -1.5-.1 -1.5 1.3zM158.1 49l-2.5 6 .1 7.5 1.3 4.5 2 2.8 1.5 .3 1.5-1.2 2.1-6.4 -.1-7.5 -2-5.7 -1.5-1.3 -1.5 .1zM643.6 55l-1.2 1.7 -1.3 4.3 -.1 4.5 .8 4.5 2.1 3.8 1.5 1 1.5 .1 2.6-1.9 1.6-3 .6-3 -1.2-7.5 -1.4-3 -2.2-2.2 -1.5-.3 -1.5 .7zM132.1 65.5l-1.6 4.7 0 7.8 1.5 5.1 1.5 1.2 1.2-.8 1.8-4.6 .5-8.9 -1.6-4.5 -1.9-1zM655.3 68.5l-1.1 3 .3 6 1.4 6.1 1.5 1.3 1.5-3.4 .2-7 -1.7-6.2 -1.5-.4zM217.7 98.5l-2.2 3 -1.4 4.5 -.5 10.5 .7 4.5 1.8 4.7 1.5 1.8 1.5 .7 1.5-.4 1.9-2.3 1.8-4.5 .7-9 -.7-6 -1.5-4.5 -2.2-3 -1.5-.5zM366.2 109l-4.5 1.5 -4.5 5 -2.9 7 -1.1 7.5 .9 7.5 3.1 8.6 4.5 6.5 3 .7 4.3-3.8 5.5-9 2.2-6 1-6 -.6-7.5 -2.2-6 -4.2-4.7 -4.5-1.3zM414.7 209.5l-2.2 1.5 -2.1 3 -.7 6 3 7.8 3 4 1.5 .3 7.6-3.8 2.6-2.3 1.6-3 .5-4.5 -1.6-4.5 -3.1-3.3 -4.6-1.8 -4.5 .2zM478.6 254.5l-3 1.5 -2.9 3 -1.1 3 .4 3 2.3 2.9 3 1.6 3 .5 4.5-.5 3.1-1.5 2.9-3 1-3 -.4-3 -2-3 -3.1-1.8 -3-.5 -4.5 .7zM100.5 248.5l1.1 22.5 2.1 13.5 1.3 3.7 1.5 .7 3-.9 3 1.6 3 5.3 3.2 9.1 4.9 25.5 -23.1 0 0-81.4z"/>
<path fill="#00ff89" fill-rule="evenodd" d="M102 32.5l367.4 0 -.1 9 2.2 9 -1.8 12 0 10.5 1.3 7.5 3.7 10.5 .7 4.5 -.6 4.5 -4.4 15 -.4 13.5 2.8 16.2 6 19.8 .9 6 -1.1 4.5 -3.9 7.5 -1.9 5.7 -.8 6.3 .3 6 2.8 10.5 5.2 9.4 6 5.8 4.5 2.2 3 .3 3-.5 3.6-2.2 2.6-3 2.8-5.3 2.6-9.7 1.3-18 1.7-4.5 4.9-3.9 16.5-7.5 7.5-6.2 4.5-6 3.2-6.4 1.9-6 .5-6 -.9-4.5 -2.7-4.5 -21.5-21.7 -6.8-8.3 -1.7-4.5 -2.9-19.5 -2.1-7.4 -4.7-7.6 -14.8-14.8 -3-18.2 258.2 0 0 297 -57.2 0 2.7-15 6.9-19.5 1.5-12 -.3-4.5 -1-3 -5.9-9 -2.2-1.8 -1.5-.2 -4.6 2 -4.5 .7 -13.5-.6 -6-.9 -1.8 .8 -2.8 3 -6.2 9 -2.3 6 -7 30 -.5 15 -30.3 0 1.9-9 -.1-6 -3.8-12 -2.2-4.5 -3.4-3.9 -3-1.2 -3.1 .6 -3.5 3 -2.4 4.5 -3 9 -1 6 2.9 13.5 -162.9 0 1.5-15 -.6-15 -1.6-10.5 -.8-13.5 -2.3-15 -.6-12 -1.5-4.5 -3.6-6 -.1-1.5 2.4-3.2 6.1-3 3.2-2.8 2.4-4.5 .6-4.5 -1.6-6 -3.1-4.1 -4.6-3 -6-1.4 -4.5 .7 -2.7 1.8 -2.3 3 -1 3 -.4 4.5 .8 4.5 8.2 15 -4.2 12 -1.7 21 -2.7 5.7 -4.5 5.2 -3 1.5 -3 .3 -7.5-.7 -3-1.2 -3-3 -11-16.8 -4.4-4.5 -4.1-2.3 -9-1.8 -6-.1 -4.5 1.9 -3.6 3.8 -2.1 4.5 -.8 4.5 2.2 40.5 -.9 22.5 -144.5 0 4.1-9 8.5-13.5 1.3-4.5 0-4.5 -2.7-7.5 -6.7-12 -17-19.5 -2.7-4.5 -.5-3 2.8-10.5 0-6 -6.8-19.5 -.5-16.5 -.9-6 -2.1-6 -4.1-6 -3.3-3 -4.4-2.6 -4.5-1.7 -6-1.1 -6 0 -6 1.3 -4.5 2.1 -3 2.6 -3.3 5.4 -1.7 6 -.6 7.5 .8 7.5 3.7 10.5 8.6 9.7 3.5 5.3 1.7 6 -.4 4.5 -1.4 3 -1.9 1.9 -6 1.9 -6-.8 -11.2-3 -2.3-2.9 .5-24.1 -1.5-13.5 -2-5.1 -3-3.6 -1.5-.9 -4.5 .6 0-162zM143.1 38.5l-3.2 4.5 -3.4 11.9 -1.5 1.6 -3 .2 -1.5 .9 -1.9 4.9 -.3 10.5 1.5 9 2.2 4.6 1.5 .6 1.4-.7 1.7-3 2.9-11.1 1.5-.8 3 .7 3-1.7 2.2-3.6 3.5-9 -.2-3 -3.4-12 -2.1-3.7 -1.5-1.2 -1.5-.1zM158.6 46l-3.4 4.5 -1.8 4.5 -.2 3 3 10.5 2.2 3 2.1 .7 1.5-1 2.1-4.2 .9-10.5 -1.7-7.5 -1.3-2.2 -1.5-1.1 -1.5 0zM643.9 53.5l-2.1 3 -1.2 4.5 0 6 1.1 4.5 2.2 3.7 1.5 1 1.5 .2 4.5-2.4 .6 .5 .9 1.3 2.5 9.2 2 2.1 1.5-2.2 .9-5.9 -.9-10.5 -1.5-3.1 -3-.8 -1.5-1.4 -1.9-5.2 -2.6-4 -3-1.2 -1.5 .6zM554.6 68.5l-.5 1.5 1.3 2.3 .7-2.3 -.7-2.2zM216.7 98.5l-1.8 3 -1.5 6 .1 12 1.8 6 2.3 3.2 1.5 .6 1.5-.3 1.5-1.3 2.8-6.7 .7-6 -.3-6 -1.3-6 -1.9-3.9 -1.5-1.5 -1.5-.5 -1.5 .5zM364.2 106l-4 2.6 -4.8 6.4 -3.4 9 -.7 7.5 1.7 9 5.7 12 3 3.5 1.5 .8 3-.4 5.3-5.4 7.2-10.5 2-7.5 .4-7.5 -1.6-9 -4-7.5 -4.8-3.3 -3-.5 -3 .6zM482 251.5l-4.7 1.3 -4.5 2.9 -2.5 3.3 -.8 3 1.1 4.5 2.2 2.5 4.5 2.1 4.5 .4 4.5-.9 4.3-2.6 2.4-3 1-3 -.5-4.5 -1.9-3 -3.8-2.5 -4.5-.6zM100.6 275.5l2.2 10.5 2.2 5.6 1.5 .3 3-1.5 1.5 .2 3 3.3 1.5 3.1 3 8.6 4.2 22.4 .1 1.5 -22.3 0 0-54.5z"/>
<path fill="#00ff76" fill-rule="evenodd" d="M102 32.5l366.8 0 -.3 7.5 1.4 9 -2 12 -.2 10.5 .8 7.5 3.3 15 -.6 4.5 -4.1 13.5 -1 7.5 .1 13.5 3.3 28.5 -.6 6 -3.8 13.5 0 10.5 3.7 15 3.2 7.5 4.3 7.5 4 5.2 4.5 4.3 4.5 2.8 4.5 1.1 4.5-1 3-1.9 3-3.3 2.5-4.2 3.8-10.5 3.7-19.5 2-5.1 4.5-4.4 16.5-9.5 6.9-6.5 5.1-7.5 3.7-7.5 2.6-7.5 .9-6 -1.1-5.7 -3.1-4.3 -19.5-14.9 -6-5.9 -3.9-5.2 -3.5-9 -2.8-18 -2.2-7.5 -5.2-7.5 -12.4-10 -3.5-3.5 -2.5-8.4 -1-8.1 257.7 0 0 297 -56.4 0 2.8-15 5.2-13.5 2.7-9 2.2-16.5 -.8-3 -3.7-.8 -6-7.3 -3-1.4 -4.5 2.1 -4.6 .9 -19.5-1.1 -2.7 1.6 -2.6 3 -6.3 9 -2.2 6 -5.2 24 -2.3 7.5 -.3 13.5 -28.5 0 1.9-9 -.2-6 -6.2-16.5 -3.9-4.5 -3-1 -3.9 1 -3.3 3 -2.4 4.5 -3 9 -1.1 6 2.9 13.5 -160.9 0 1.7-13.5 -.7-16.5 -1.5-10.5 -.9-13.5 -3-15 -.5-12 -3.5-10.5 1.4-2.8 6.5-3.2 4.5-4.5 2.6-6 .1-7.5 -2.3-6 -5.3-6.1 -21.1-12.4 -4.5-1.5 -1.5 .4 -1.1 1.6 -.6 4.5 3.5 22.5 2 6 7.4 10.5 1.4 4.5 -2.9 10.5 -.9 16.5 -1.3 6 -3.7 6 -3.8 3.5 -4.5 .9 -7.5-.7 -4.5-2.7 -10.3-16 -7.7-7.7 -4.5-1.8 -10.5-1.6 -4.5 .5 -4.5 2.5 -3.8 5.1 -1.8 7.5 2.3 42 -.9 21 -143.1 0 3.2-7.5 9.1-15 1.2-4.5 0-4.5 -2.5-7.5 -6.6-12 -15-18 -3.5-6 -.2-3 2.8-10.5 0-6 -1.5-6 -4.9-12 -.8-6 -.4-16.5 -1.6-6 -3.1-6 -5.9-6 -7.7-4.1 -9-2.1 -10.5-.2 -9 1.5 -6 2.9 -3 3.5 -4.5 8.7 -1.5 1.2 -13.5 .5 0-59 4.5-.3 .1-3.6 -.1-4.2 -4.5-1 0-87.8zM141.8 37l-5.3 7.2 -1.5 1.1 -12-4.6 -4.5 .3 -2.7 2 -2 4.5 -.8 7.5 .7 7.5 1.8 5.1 2.9 2.4 4.6 .9 1.5 1.2 5.3 14.4 2.2 2.8 1.5 .4 1.5-.8 1.5-2 4.5-11.3 4.5-1.3 1.5-1.2 4.5-7 1.5-.2 4.5 7.2 3 1.1 1.5-.9 2.6-4.8 1.2-7.5 -.3-7.5 -2-6.8 -1.5-2.2 -3-1.1 -6 4.7 -6-11.1 -1.5-1.1 -3 .5zM644.3 52l-2.6 3 -1.4 4.5 -.3 6 1.1 6 1.3 3.1 3 3 6 .1 4.4 10.3 1.6 1.1 1.8-2.6 1.3-7.5 -.3-7.5 -1.3-6.1 -1.5-2.7 -4.5-3.9 -3.3-5.3 -2.7-1.9 -1.5-.1zM553.5 64l-1.8 4.5 .2 4.5 2 3.8 1.5 .6 1.5-.8 1.5-3.6 0-5.2 -1.5-3.5 -1.5-1 -1.5 .4zM217.1 97l-2.1 3 -1.8 6 -.6 6 .4 7.5 1 4.5 2.1 4.5 3 2.1 3-1.4 2.2-3.7 1.3-4.5 .6-6 -.3-6 -1.3-6 -2.2-4.5 -1.8-2 -1.5-.4 -1.5 .4zM371.4 97l-8.2 5 -6.6 7 -4.8 9 -2 6 -.9 6 .1 4.5 1.6 6 7.8 15 1.8 2.4 3 2.2 1.5 .3 3-1 7.5-5.7 7.6-4.2 2.1-4.5 1.1-7.5 -.3-16.5 -3-14.6 -4.5-9.2 -3-1.7 -3 1zM484.5 248.5l-5.7 1.3 -6 3.3 -4 4.4 -1.4 4.5 1 4.5 4.4 4.5 4.5 1.6 6 .2 4.5-1.3 4.5-2.9 2.8-3.6 1.2-4.5 -.6-4.5 -2.7-4.5 -3.7-2.5 -4.5-.5zM120 215.9l1.5-.1 1.5 1.1 10.5 7.9 4 4.2 2 3.5 1.1 4 0 3 -1.1 3.4 -3 2.8 -6 1 -8.2-2.7 -4-3 -1-3 -.1-4.5 1-12 1.2-4.5zM100.7 284.5l4.3 10.3 1.5 .1 3-2 1.5 0 3 3.2 1.5 3 3 9.5 3.6 20.9 -21.6 0 0-45.8z"/>
<path fill="#00ff64" fill-rule="evenodd" d="M102 32.5l6.3 0 -1.7 43.5 -1.1 6 -.5 1.1 -1.5 0 -3 0 0-50.6zM127.5 32.5l15.8 0 -5.3 4.7 -3 .9 -6.3-2.6 -1.2-1.5 0-1.5zM145.5 32.5l322.8 0 -.5 7.5 .5 7.5 -2 10.5 -.6 9 .3 9 2.1 18 -3.8 15 -1.3 9 -.5 36 -1.2 6 -6.1 19.5 -1.5 12 1 4.5 1.5 3 17.1 25.5 11.3 15 0 3 -14.8 10.4 -2.5 3.1 -1.8 4.5 .2 4.5 2.6 4.5 4.5 3.2 7.5 1.6 6-.8 4.5-1.9 4.3-3.6 2-3 1.2-3 .4-4.5 -2.3-10.5 .3-3 7.6-7.9 4.5-7.4 3.8-10.2 5.7-21 2.5-5.3 5.3-5.2 14.2-9.6 6-5.9 6.9-10 11.2-20.6 4.5-5.3 7.5-5.7 1.8-2.9 .6-3 -.9-3.3 -3-1.8 -3 .4 -9 4.6 -3 .2 -4.5-1.1 -13.6-6.8 -10.8-8.7 -4.8-6 -3.6-7.5 -3.1-19.5 -2.6-7.5 -3-4.5 -3-3 -12.6-8.7 -4.5-4.2 -3-9.1 -.5-5 257.2 0 0 297 -55.5 0 2.7-15 6.6-16.5 2.6-9 2.5-22.5 -.9-3.8 -1.5 .8 -3 5 -1.5 .6 -1.5-.8 -6-6.9 -1.5-.6 -5.1 2.7 -4 1 -19.5-.5 -3 1.8 -6.6 8.2 -4.1 7.5 -5.8 25.9 -2.6 7.1 -.7 15 -26.4 0 1.9-9 -.3-6 -6.6-16.5 -3.7-4.5 -3.6-1.5 -4.5 1.3 -3.2 3.2 -2.4 4.5 -3.2 9 -1.1 6 2.8 13.5 -158.4 0 2.6-15 -2.4-24 -.3-10.5 -4.9-18 -.7-13.5 -1.9-9 .4-1.5 1.6-1.2 7.9-4.8 4.6-6 1.9-4.5 1.2-6 -.4-9 -1.9-4.5 -4.6-6 -20.8-17.8 -6.1-6.2 -4.8-6 -4.3-7.5 -2.1-6 -1.6-7.5 -3.6-40.3 -4.5-30.7 -2.4-11.5 -2.8-7.5 -3.1-4.5 -4.4-3 -5.3-.9 -3 .6 -3 1.8 -2.3 3 -1 3 -.3 9 4.1 21 0 7.5 -1.5 4.5 -8.7 15 -4.1 9 -2.1 7.5 0 7.5 1.6 4.5 8.9 15 5.4 6.9 4.5 1.4 7.5-2.4 3 .5 3.2 2.6 3.5 6 2.8 9 4 18.9 3.3 9.6 8.2 16.5 8 9.3 2 4.2 -2.1 12 -.9 16.5 -2 6 -4.5 5.9 -3 1.8 -3 .5 -7.5-.8 -4.3-2.9 -9.6-15 -5.2-6 -3.4-2.6 -4.5-1.8 -10.5-1.5 -4.5 .4 -4.5 2.4 -4.6 6.1 -1.7 7.5 2.6 42 -.9 21 -141.8 0 3.8-8.4 8.3-14.1 1.2-4.5 -.1-4.5 -2.4-7.5 -6.4-12 -14.2-18 -2.6-4.5 -.4-3 2.6-10.5 .2-7.5 -1.3-6 -4.9-13.5 -.7-21 -1.3-6 -2.8-6 -3.6-4.5 -3.6-3 -10.1-5 -12-2.7 -21-2.1 -6 .6 -3 1.5 -8.3 12.2 -2.2 1.9 -4.5 .2 0-31.6 4.5 0 1.5-3.2 1.1-4.8 .8-12 .2-30 .5-6 1.4-4.5 4.6-4.5 4.9-2.8 3-.9 1.5 .6 1.5 1.7 4.5 7.1 3 1.3 3-2.5 4.5-10 6-3.8 4.5-5.5 1.5 0 4.5 5.2 3 .8 3-2.7 1.6-3.5 1.2-6 .2-7.5 -1.1-7.5 -1.9-4.9 -1.5-1.9 -3-1.1 -4.5 2.4 -1.5 .1 -6-9.3 -2.2-1.8zM644.8 50.5l-2.4 1.8 -2.4 5.7 -.6 7.5 1 6 3.5 6.5 3 1.7 3 .4 1.5 1 4 8.4 2 1.4 2.1-2.9 1.4-7.5 0-9 -1.4-7.5 -2.1-4.1 -7.4-7.9 -2.3-1.5 -2.3-.3zM553.6 61l-1.6 1.5 -1.4 3 -.6 7.5 2.3 6.3 1.6 1.3 1.5 .4 1.5-.5 2.5-4.5 .5-7.5 -2.1-6 -2.4-1.8 -1.5 .2zM217.6 95.5l-2.6 3 -2.1 6 -.9 7.5 .4 7.5 1.4 6 2.3 4.5 3 2.1 3-1.2 2.6-3.9 1.5-4.5 .7-6 -.2-6 -1-6 -2.4-6 -2.7-3 -3 0zM126 225.7l3-.1 3 1 3 2 3 3.9 1.5 4 .1 3 -1.2 3 -1.9 1.8 -3 1.2 -4.5-.4 -2.7-1.1 -3.2-3 -1.1-3 .2-6 1.6-4.5 1.6-1.5zM100.8 290.5l4.2 7.5 1.5-.1 3-2.3 1.5-.3 1.5 1 3 4.9 3 10.3 2.9 18 -20.9 0 0-39.8z"/>
<path fill="#00ff52" fill-rule="evenodd" d="M148.5 32.5l318.9 0 -.7 12 -2 10.5 -.9 9 .8 28.5 -3.9 21 -2.3 36 -3.1 12 -5.8 15 -3.7 6.6 -4.5 3.3 -3-.1 -4.5-2.3 -18.1-14.8 -7.8-9.2 -5.5-10.5 -3.5-13.5 -3.4-33 -6.3-43.5 -2-9 -2.7-6 -2.7-3 -3.6-2 -6-1.3 -6 .1 -4.5 .9 -4.5 2.3 -2.9 3 -1.6 3 -1.3 6 -.1 6 4.4 25.5 .2 9 -2.7 9 -9.2 18 -2.3 6 -1 6 .8 4.5 2.4 4.5 7.3 8.9 9 13.1 4.5 3 9 1 3 2.8 3.9 8.7 5.6 24 3.8 10.5 8 12 10.7 10.5 1.1 1.5 .4 3 -1.3 7.5 -.7 16.5 -1 4.5 -4.7 7.5 -1.8 1.6 -3 1.2 -7.5-.4 -4.5-2.1 -11-16.8 -5.5-6 -4.5-2.9 -10.5-2.2 -6-.1 -4.5 1.5 -4.2 3.7 -3.3 6 -1.1 6 2.9 42 -.7 21 -140.5 0 2.8-6.6 8.4-14.4 1.5-4.5 .2-6 -1.7-6 -6.1-12 -3.8-6.1 -9.2-11.9 -2.9-6 -.1-3 2.3-10.5 .2-7.5 -1.3-7.5 -3.9-13.5 -.1-19.5 -1-6 -1.6-4.5 -2.8-4.5 -2.8-3 -5.3-3.9 -6.1-3 -9-3.2 -26.4-6.4 -9.6-3.8 -3.8-3.7 -2-6 -.9-16.5 .7-19.5 1.8-9 3.9-7.5 3.3-3.6 3-1.3 6 4.5 3 .6 3-2.3 6-10.5 4.5-3 4.5-4.6 1.5 0 4.5 3.8 3 .6 3-2.4 2.1-4.3 1.3-6 .5-7.5 -.7-7.5 -1.7-6.1 -1.5-2.9 -3-2.6 -3 0 -3 1.1 -1.5-.4 -3.2-4.1 -1.3-3zM218.7 94l-2.6 1.5 -2.5 4.5 -1.6 6 -.5 9 .7 7.5 1.9 6 3.5 4.7 3 .4 3-2.2 2.4-4.4 1.6-6 .4-7.5 -.7-6 -2.4-7.5 -2.8-4.5 -3-1.6zM490.8 32.5l256.7 0 0 297 -54.7 0 2.8-15 7-16.5 2.9-10.7 3-25.3 -1.2-4.5 -1.8-1.4 -1.5 1.4 -3 6.9 -1.5 1.9 -1.5-.1 -1.5-1.4 -4.5-6.5 -1.5-1.5 -1.5-.2 -6.1 5.4 -6 1 -15 0 -4.5 3.5 -7.1 9 -2.8 6 -5.8 25.5 -3.5 9 -.6 13.5 -23.7 0 1.8-9 -.5-6 -8-18 -3.8-3.9 -3-1 -4.5 1.2 -3.7 3.7 -5.7 13.5 -1.2 6 2.7 13.5 -154.9 0 3.1-15 -.9-33 -1.5-6.8 -4.5-5.3 -3-7.4 -.8-19.5 .8-2.2 10.5-7.3 12-14.8 4.5-2.1 4.5 .5 4.5 2.8 4.5 4.7 7.1 9.4 2.8 6 -1.5 4.5 -8.4 8.6 -2.9 4.9 -.7 6 1.5 4.5 5.1 5 7.5 2.5 9-.6 7.5-3.5 3.5-3.4 2.7-4.5 2.8-16 9-16.9 8.8-27.1 3.5-7.5 5.2-6 11-8.4 6-5.4 4.8-5.7 10.3-15.5 4.5-5.6 4.5-3.8 9.9-6.6 3.6-3.5 2.5-4 1.4-4.5 .4-6 -1.4-6 -2.9-4.8 -4.5-3 -4.5-.8 -4.5 .7 -12 6.2 -6.1 .9 -4.5-1.1 -4.5-2.1 -9-7 -4.7-5.5 -3.2-6 -1.6-6 -1.6-13.5 -3.7-9 -3.7-4.5 -3.6-3 -12.4-7.4 -4.5-3.6 -3-5.1 -1.5-7.9zM645 49l-2.6 1.8 -2.7 5.7 -.9 7.5 1 7.5 1.7 4.5 2.4 3.5 6.7 4 4.4 7.5 2.4 1.7 1.5-1.2 .9-2 1.6-7.5 .2-10.5 -1.2-7.8 -1.5-4.3 -3-4 -6-5.5 -3-1.2 -1.5 .1zM552.2 59.5l-2.2 3 -1.5 4.5 -.2 6 .8 4.5 1.7 4.1 3.1 2.9 3 0 1.5-1.3 1.5-2.7 1.1-4.5 .3-6 -.7-4.5 -1.9-4.5 -1.8-2 -1.5-.6 -3.1 1zM127.5 230.4l1.5-.9 3 0 3 1.8 1.5 1.8 1.7 4.9 -.5 3 -1.1 1.5 -2.9 1.5 -2.7 0 -3.2-1.5 -1.4-1.5 -.9-3 0-3 1.9-4.5zM100.7 295l4.3 6 1.5 0 3-2.6 1.5-.4 3 2.8 3 7.2 3.8 21.5 -20.3 0 0-34.8z"/>
<path fill="#00ff40" fill-rule="evenodd" d="M151.5 32.5l204.7 0 0 1.5 -1 1.5 -4 3 -2.1 3 -2.5 9 .2 12 3.9 25.5 -.6 10.5 -3.3 9 -9.8 18 -1.3 6 .2 4.5 .9 3 2.4 3.9 10.5 10 10.5 14.1 4.5 3.4 7.5 3 3 4 3.4 9.6 5.2 24 3.4 9 7 9 12.5 10.2 1.2 1.8 -.4 22.5 -.7 4.5 -1.1 3 -4.4 6 -3.6 1.9 -7.5-.4 -4.5-2.5 -9.8-15.5 -5.2-6 -4.5-3.4 -6-1.9 -10.5-1.1 -4.5 .8 -4.5 2.8 -4.2 5.8 -2.1 7.5 3.2 43.5 -.6 21 -139.2 0 3.3-7.4 7.7-13.6 1.4-4.5 .3-4.5 -1.2-6 -3.3-7.5 -5.6-10.5 -8.4-12 -2.6-6 -.2-3 2-12 .2-7.5 -2.9-21 .1-21 -2-9 -2.4-4.5 -2.6-3 -8.7-6 -12.4-5.1 -25.5-7.6 -10.5-4.9 -3.8-3.4 -2.1-3 -2.4-7.5 -.9-12 .7-13.5 1.7-7.5 3.9-7.5 2.9-2.9 1.5-.5 6 1.5 3-1 2.8-3.1 4.7-7.7 7.5-6.3 1.5-1.1 1.5-.1 4.5 2.7 3 .3 3-2.2 2.6-5.1 1.5-6 .6-9 -.8-9 -1.6-6 -3.8-5.7 -3-1.2 -4.5 .4 -1.5-.5 -1.9-3.5zM216.2 94l-2.9 4.5 -2 7.5 -.6 9 .7 7.5 2.2 7.5 2.5 4 3 1.8 1.5 0 2.6-1.3 3.4-4.5 2.3-6 .9-7.5 -.5-6 -2.1-7.5 -2.9-6 -3.7-4 -3 0zM400.7 32.5l65.7 0 -4.2 25.5 -.6 31.5 -3 21 -2.9 36 -3.1 12 -4.3 10.5 -4 6 -4.5 2.5 -3-.4 -4.5-2.8 -16.1-15.8 -6.5-9.2 -4.1-10.3 -2.1-10.5 -6.9-49.5 -2.6-25.5 .4-13.5 1.5-3 4.1-3 0-1.5zM492.3 32.5l255.2 0 0 297 -53.8 0 2.8-15 6.9-15 2.1-6.7 4.9-33.8 -1.9-5.9 -1.5-1.7 -1.5-.3 -1.5 1.3 -4.5 10.4 -1.5 .7 -2.7-3 -4.8-9.9 -1.5-.8 -3.3 1.7 -4.6 6 -2.7 2 -4.5 1.3 -10.5 .9 -3 .8 -4 4 -6.5 8.2 -3.2 6.8 -5.8 25.5 -4.5 9 -1.1 13.5 -19.5 0 1.5-9 -1-6 -2.4-4 -6.2-14 -2.8-3.4 -4.5-1.9 -4.5 1.1 -3.1 2.7 -2.8 4.5 -3.7 9 -1.9 7.5 2.6 13.5 -151.1 0 2.6-15 .4-21 -.6-10.5 -.7-6 -1.4-4.5 -2.3-3 -4.6-3.7 -1.7-3.8 -.6-4.5 .7-10.5 1.6-3.7 9-5.2 12-8.4 6-1.6 4.5 1.1 3 1.9 3.6 3.9 1.8 3 .5 3 -.8 3 -6 9 -1.9 4.5 -.4 6 2.5 6 2.8 3 3.9 2.5 7.5 2.1 9-.7 8.6-3.9 4.7-4.5 2.8-4.5 4.2-13.5 8.2-18 7.5-22.6 5.1-10.4 4.9-6 16.8-15 16.8-21.2 21.1-16.3 4.1-6 1.9-6 .3-9 -1.9-8.2 -4.2-6.8 -4.8-3.7 -7.5-1.9 -7.5 .4 -6 1.4 -7.5 3.9 -4.6 1 -6-1.7 -5.2-3.9 -3.9-4.5 -2.9-5.3 -3.3-18.7 -3.4-7.5 -3.8-4.5 -5.3-4.5 -14.2-7.8 -6-4.6 -3-5.2 -.7-4.9zM644.9 47.5l-3.5 3 -2.5 6 -.7 7.5 .9 7.5 1.8 5.2 3 4.6 6 4.6 4.6 6.6 1.4 1.6 1.5 .5 1.5-1.1 1.5-3.3 1.6-8.2 .4-10.5 -1.2-9 -2.3-6.2 -3-3.9 -6-4.5 -4.5-.7zM553.7 56.5l-2.9 1.8 -2.7 4.2 -1.6 6 -.2 6 1.1 6 2.8 6 3.7 3.6 3 .3 3-3.1 1.5-4 1-5.8 .1-7.5 -1.1-6 -2-4.5 -2.5-2.6 -3-.5zM130.5 233.2l3 .1 1.7 1.7 1 3 -1.2 3.2 -3 .8 -2-1 -1-1.4 -.4-3.1 1.5-3zM101 299.5l4 4.4 1.5 0 4.5-3 3 2.6 3 7.7 3.1 18.3 -19.6 0 0-30.6z"/>
<path fill="#00ff2e" fill-rule="evenodd" d="M160.5 32.5l186.6 0 -.4 3 -1.8 3 -1.5 4.5 -.9 9 .5 12 2.6 22.5 -.3 10.5 -2.9 9 -10.1 18 -1.6 7.5 .6 6 1.9 4.5 3 3.7 13.5 10.7 10.5 13.6 3 2.8 6 4 3 3.4 3.7 9.8 4.6 25.5 2.7 9 2.5 4.4 3 3.3 16.3 11.8 1.1 4.5 .6 10.5 -.9 9 -3.1 6 -3.5 3.3 -6 .6 -4.5-.9 -2.1-1.5 -10.4-16.5 -5.5-6.4 -4.5-3.3 -6-1.7 -10.5-1 -6 1.5 -4.5 3.4 -3.9 6 -1.8 7.5 3.8 43.5 -.7 21 -137.7 0 10.7-21 1.4-4.5 .3-4.5 -2.3-9 -7.4-15 -6.3-10.5 -2-6 1.6-21 -.7-22.5 .3-18 -.8-9 -1.6-6.3 -4.5-7.2 -3.7-3 -5.3-3 -11.5-4.5 -27.6-8.8 -10.5-5.2 -4.5-3.9 -2.1-3.1 -1.9-4.5 -1.3-6 -.4-9 .6-9 2-7.5 3.1-5.6 3-2.2 4.5-.5 3-1.4 7.5-9.6 9-7.1 1.5-.2 4.5 1.5 3 .1 3-2 2.7-4.5 2.8-12 -.4-15 -1.4-6 -1.9-4.5 -3.3-4.2 -2.3-1.8zM238.6 91l-1.8 3 -4.2 12.3 -1.5-.5 -6.5-10.3 -4-4 -3 0 -1.5 1 -3.8 6 -1.7 6 -.7 7.5 1 13.5 1.3 4.5 2.4 4.9 3 3 3 .8 4.5-2 3.3-3.7 2.9-6 2.8-9.3 1.5-1.9 3-1.6 1.7-2.2 1.5-4.5 .7-7.5 -.7-6 -1.7-3.1zM429.3 32.5l34.8 0 -3.9 21 -1.2 34.5 -5.2 55.5 -2.6 10.5 -3.9 9.6 -3 4.5 -4.5 2.7 -4.5-1.3 -5.2-5 -12.8-16.5 -5-9 -4.1-15.1 -6.9-40.4 -1.8-15 .2-16.5 1-4.6 2.5-4.4 3.5-2.9 4-1.6 15.1-3 2.4-1.5 .3-1.5zM493.8 32.5l253.7 0 0 297 -52.8 0 2.9-15 5.9-12 2-5.3 3.7-26.2 3.4-13.5 -2.6-7.6 -2.5-2.9 -2-.5 -2 2 -4 9.8 -1.5 1.5 -2.2-2.3 -3.8-10.4 -1.5-1.9 -1.5-.8 -4.5 1.1 -7.6 4 -2.2 2 -4.5 6 -2.5 1.5 -7.3 2 -7.5 8.3 -4.4 6.2 -2.1 4.5 -5 22.5 -2 6.1 -3 4.6 -7.5 6.7 -4.5 .5 -3-1 -6-7.6 -5.6-12.3 -2.7-4.5 -3.7-3.4 -4.5-.8 -4.5 2 -3.3 3.7 -6.6 15 -1.1 4.5 2.3 13.5 -147.5 0 1.6-11.2 1.3-23.3 -.6-13.5 -1.2-7.5 -1.7-4.5 -2.3-2.9 -4.5-2.9 -1.5-2.4 -.5-5.3 2-6.4 3-2 16.5-6.6 4.5-.7 3 .7 1.7 1.5 .6 3 -2.8 10.5 .1 7.5 2.6 6 3.8 4.1 7.5 4 9 1.2 9-1.8 7.5-3.9 5.2-5.1 3.7-6 9.7-22.5 9.4-27 5.6-10.5 5.4-6.5 14.1-13 13-15.8 28.5-23.9 3.6-5.3 2.3-7.5 .5-7.5 -.7-7.5 -2.3-7.5 -3.4-6 -3-3.2 -4.5-3 -6-2.1 -9-1.6 -3.3-2.1 -1.2-3.8 -.4-12.7 -1-7.5 -2.1-6 -2.5-3.6 -1.5-1 -3-.5 -3.1 1.4 -2.2 2.2 -4.1 7.5 -4.2 14 -6.5-12.5 -5-6 -12.3-9 -18.2-9.6 -4.5-4.7 -1.5-5.2zM644.3 46l-1.9 1.3 -2.3 3.2 -2 6 -.6 7.5 1.2 9 2.2 5.8 3 4.6 7.5 7.1 3.8 5 2.2 1 1.5-1 1.5-2.7 2.3-9.3 .6-12 -1.3-10.5 -2.1-6 -4-5.6 -6-3.7 -4.5-.2zM618.1 151l-1.3 1.5 1.6 1.7 1.5-1.7 -1.5-1.6zM102 304l3 2.6 1.5 .1 4.5-2.5 1.5 .6 1.5 1.9 2.9 7.8 2.4 15 -18.8 0 0-26.9z"/>
<path fill="#00ff1b" fill-rule="evenodd" d="M165 32.5l176.4 0 -2 10.5 -.4 7.5 1.9 33 -.3 10.5 -2.5 9 -8.6 15 -2.4 6 -1.2 7.5 .9 7.5 2.1 4.5 2.8 3.5 4.7 4 13.3 8.8 10.5 13.3 9 9.4 2.9 6 2.1 9 3 31.5 1.5 6 4.5 4.5 16 7.8 3 2.1 2.3 5.1 .7 7.5 -1.3 7.5 -3.2 5 -3 2.1 -6 0 -3-1 -1.8-1.6 -13.2-21.7 -6-6.3 -6-1.9 -10.5-.3 -6 1.2 -6 3.7 -4.8 7.3 -1.5 4.5 -.6 4.5 4.6 43.5 -.6 21 -136.2 0 10.5-21 1.2-4.5 .4-4.5 -1.6-7.5 -11.1-24 -1.7-6 2-63 -.8-12 -1.8-7.5 -2.3-4.5 -2.6-3 -6.9-4.5 -9.8-3.7 -30.1-9.2 -12-5.7 -4.5-3.7 -3-3.9 -2.2-5.3 -1.1-6 -.4-7.5 .6-7.5 1.8-6 2.8-4.5 7.5-4.4 7.5-8.6 7.5-5.7 3-1.3 6 .5 3-.9 3-2.9 2-3.7 2.9-12 .4-12 -2-12 -4-9zM238.4 86.5l-2.1 3 -3.7 8 -1.5 1.5 -1.5-.1 -1.5-1.1 -4.5-5.6 -3-2.4 -3-.1 -1.5 .9 -3.8 4.9 -1.8 4.5 -1.3 6 -.5 10.5 .7 9 2 7.5 3.2 5.9 3 2.8 4.5 1 4.5-1.4 4.8-3.8 3.5-4.5 5.2-9.6 2-5.4 1.6-7.5 .7-9 -.9-9 -1.9-5.1 -1.5-1.3 -1.5 .2zM441.3 33l6.8-.5 6.7 3.9 2.2 3.6 .6 6 -.7 39 -4.1 52.5 -1.7 9 -2.3 7.4 -3 6.3 -3 3.6 -1.5 .9 -3 .3 -3-1.6 -3-3.1 -6.8-10.8 -8.2-16.5 -3.8-12 -6.8-30.3 -2.2-13.2 -.9-12 1.3-12 1.7-4.5 3.1-3.8 6.6-3.7 20.7-6 3.1-1.5zM493.8 32.5l253.7 0 0 297 -51.7 0 2.9-15 6.8-13.5 1.5-6.3 3.5-26.7 1.5-4.5 2.7-4.5 .7-3 -2.8-7.5 -4.1-5.7 -3-.6 -1.5 1.1 -4.5 9.7 -1.5 1.8 -1.5-1.3 -4.5-11.3 -1.5-1.6 -3-.7 -15.1 4 -3 1.6 -3 3 -3.3 7.5 -8.7 9.9 -7.5 10.9 -1.6 4.7 -5.9 24.6 -3 5.2 -3 2 -9 1.2 -6-1.1 -3-3.1 -5.1-10.8 -3.9-6 -3-2.4 -4.5-.8 -4.5 2 -3.9 4.2 -8.2 18 -.1 4.5 1.6 10.5 -143.8 0 3.2-42 -1.8-16.5 -2.4-6 -4-6 .7-1.5 7.1-2.3 5.1 .8 2.4 2.5 3.7 8 4.3 6 5.5 4.4 6 2.6 7.5 1.1 7.5-.7 7.5-2.2 6-3.5 6-6.2 6.7-10.5 6.2-13.5 10.7-30 4.1-7.5 5.3-6.6 13.5-12.5 10.6-11.9 3-2.1 1.5-.3 1.5 .8 1.1 2.6 1.3 10.5 2.1 6.4 1.5 1.8 1.5 .3 1.5-1.5 1.1-4 .2-4.5 -2.2-16.5 1.4-6 4.1-6 11.6-9 4.5-4.5 2.6-4.5 1.3-4.5 .9-9 -.6-9 -1.5-7.5 -3-7.5 -3.9-5.5 -4.5-3.8 -6-3.1 -10.5-3.2 -3-2 -2.2-4.9 -3.2-16.5 -2.1-5 -3-3.8 -3-1.3 -3.1 .3 -3.6 2.3 -5.4 5.1 -3 1.2 -1.5-.4 -24-13.2 -15-7.1 -4.5-3.8 -1-1.3 -.6-3zM643.4 44.5l-3.9 4.5 -2.4 7.5 -.4 9 1.5 9 2.7 6.8 4.5 6.7 10.5 10.3 1.5 .3 1.5-.9 2.1-3.7 1.4-4.5 1.7-10.5 .3-12 -1.6-9 -3.9-7.9 -4.5-4.8 -6-2.2 -4.5 1.1zM615.1 146.5l-2.7 1.5 -.7 1.5 .5 4.5 3.2 4.2 1.5 .8 3 .1 1.5-.7 2.1-2.9 .5-3 -.7-3 -1.1-1.5 -2.3-1.3 -4.5-.3zM102 306.9l4.5 2.5 4.5-1.7 1.5 .7 1.5 1.9 1.8 4.2 2.5 15 -17.8 0 0-23.6z"/>
<path fill="#00ff09" fill-rule="evenodd" d="M168.1 32.5l168.6 0 -1 15 1 31.5 -.7 12 -3.1 10.5 -7.6 13.5 -2.6 6.3 -1.7 8.7 .5 7.5 2.2 6 3.5 4.9 6 4.9 12 6.5 4.5 3.3 16.4 20.9 2.5 4.5 1.9 6 1.3 7.5 .5 9 -.4 7.5 -1.2 5.8 -2 4.7 -2.4 3 -6.1 3.6 -13.5 4 -6.6 2.9 -4.8 4.5 -2.7 6 -1.4 6 -.4 6 4.4 28.5 1.4 15 -.6 21 -134.5 0 9.5-19.5 1.5-4.5 .6-4.5 -.9-7.5 -8.2-21 -1.6-7.5 2.4-64.5 -.6-15 -2.1-10.5 -3.6-6 -6.4-4.1 -39.1-10.9 -8.1-3 -6.9-3.5 -5.1-4 -3.5-4.5 -2.3-6 -1.1-6 .3-12 1.4-4.5 1.7-3 14.6-14.2 7.5-4.8 10.5-2 3.6-3 2.5-4.5 2.6-9 1.2-15 -1.2-12 -3.1-10.5zM237.5 83.5l-4.9 9 -1.5 1.8 -1.5 .6 -3-1.6 -4.5-4.6 -3-1.3 -3 .9 -2.9 2.7 -2.9 4.5 -2 6 -1.2 15 .4 9 1.8 9 2.9 7.5 3.9 4.9 4.5 1.9 4.5-.3 6-2.5 6-4.6 4-5.4 2.3-6 1.9-10.5 .8-12 -.3-10.5 -1.6-9 -2.6-5.1 -1.5-.8 -1.5 .3zM496.8 32.5l250.7 0 0 297 -50.5 0 2.5-13.5 5.6-10.5 1.9-6.4 2.5-22.1 1.7-9 1.8-4.4 1.5-1.9 3.7-2.7 1-3 -4.3-10.5 -4.9-6.5 -3-1.2 -3 1.3 -6 9.5 -1.5-1.6 -4.5-9 -1.5-1.2 -3-.9 -9.1 1.1 -9 2.2 -6 3 -3 3.1 -1.4 3.2 -1.7 10.5 -9.7 15 -2.2 4.5 -6.1 25.5 -2.9 5.3 -3 2.3 -9 1.5 -6-1.1 -3-3.2 -5.4-10.8 -3-4.5 -3.6-2.9 -4.5-.7 -4.5 1.8 -3.4 3.3 -10.7 19.5 -1.6 15 -137.3 0 1-24 3.1-15 .5-13.5 1.3-4.3 1.5-.5 1.5 .5 7.5 5.1 6 3 9 2 12-.9 6-1.6 6-2.9 7.5-6.9 11.9-16 3.4-7.5 10.2-29.3 4.5-7.9 6-7.1 19.6-17.6 3-1.3 1.5 .8 1.5 2.5 3.3 8.9 2.7 4.2 3 1.5 1.5-.6 1.5-1.7 1.5-4.4 .6-5 -.4-21 1.3-4.6 3-4.4 15-10.4 4.5-2.1 1.5 .5 6.2 10.5 2.8 2.5 3 1.4 3 .1 3-1.4 2.2-2.6 1.2-3 -.3-6 -1.5-3 -1.6-1.5 -13.2-3 -1.8-1 -1.1-2 -2.7-28.5 -2-7.5 -3.2-6.8 -4.3-5.2 -4.7-3.6 -6-3 -10.5-3.8 -3-2.3 -2.1-3.8 -4.4-15 -4-6.8 -3-2 -3-.4 -12.1 5.5 -7.5-1.4 -7.5-3.1 -13.5-7.5 -12-5.2 -4.3-3.1 -1-3zM644.8 41.5l-4.3 3 -2.1 3 -1.7 4.5 -1.3 10.5 1.3 10.5 3.1 9 5.6 9.4 9 8.3 3 1.2 1.5-.7 2.2-3.2 3.3-10.5 2.3-15 -.8-10.5 -3.2-7.5 -6.8-9.9 -4.5-2.4 -6 0zM438.3 38.4l7.5 .3 3 1.3 3 3 2.4 7.5 .9 16.5 -.7 28.5 -3.4 43.5 -2.2 9 -3 7 -3 3.8 -3 1.3 -3-.9 -4.5-5.1 -3.9-7.6 -4.1-10.5 -13.1-45 -2.3-12 -.9-10.5 .2-6 1.2-6 1.8-4.3 2.6-3.2 7.1-4.5 17.1-6zM384.2 255.9l3-.8 4.5 .4 6 1.9 3 2 1.5 3 .1 5.6 -1.6 3.4 -2.2 2.6 -2.3 1 -3 0 -3-.8 -2-1.7 -2.6-4.5 -2.8-7.5 0-3 1.3-1.5zM102 309.6l4.5 2.3 4.5-.6 2.2 1.7 1.3 3 2.1 13.5 -16.1 0 0-20.7z"/>
<path fill="#09ff00" fill-rule="evenodd" d="M172.6 32.5l159.8 0 .6 37.5 -.8 15 -3.1 12 -9.1 16.5 -2.4 6 -1.6 9 .8 10.5 3 7.5 5.1 6 5.3 3.6 16.5 8 4.5 3.8 3 3.7 8.5 12.4 3.2 6 2.2 7.5 .9 9 -.3 6 -1.3 6 -1.9 4.5 -2.3 3.1 -3.3 2.9 -4.2 2.4 -16.5 5.8 -4.8 2.3 -4.2 3.8 -2.5 5.2 -.7 4.5 .4 6 6.1 27 2.1 15 .8 10.5 -.7 18 -132.3 0 8.8-19.5 2.1-9 -.5-6 -5.3-16.5 -1.6-10.5 2.8-61.5 -.6-46.5 1-.9 12-2.4 10.5-4.6 7.5-4.9 5.6-6.7 2.3-6 .9-7.5 -1.4-30 -1.1-7.5 -1.8-6 -1.5-3 -3-2.3 -1.5 .5 -1.5 1.5 -4.5 8.4 -3 2.9 -3-1 -6-5.3 -3-.3 -4.5 2.5 -4.4 5.1 -2 4.5 -1 4.5 -.6 18 .3 9 2.8 25.5 .1 3 -.8 1.5 -7.9 .5 -10.5-.4 -19.5-3.2 -19.6-5.6 -6.9-3.3 -5.1-3.4 -4.5-5.1 -2.8-6.5 -1.6-10.5 .8-7.5 3.3-6 10.8-11.3 7.5-4.6 9-2.1 3-1.3 3.1-2.6 2.4-3.6 3.3-9 1.9-15 -.4-13.5 -2.2-12zM499.8 32.5l247.7 0 0 297 -48.8 0 2.5-13.5 4.3-8 1.5-4.9 3-26.1 2.4-10.5 1.8-3 1.8-1.4 3-.9 4.5 .1 1-.8 .1-1.5 -2.3-7.5 -4.2-9 -3-4.5 -3.6-3.5 -3-1.1 -3 .8 -7.5 7.7 -7.3-8.4 -3.2-1.3 -3-.2 -10.6 1.5 -9 2.2 -6 2.8 -4.2 4 -1.7 4.5 1.2 10.5 -.9 4.5 -8.7 16.5 -4 18 -2.7 8.2 -3 4.1 -3 1.7 -7.5 1.2 -6-1.1 -3-3.2 -5.8-10.9 -3.2-4.2 -3-2.2 -4.5-.7 -4.5 1.7 -5.2 5.4 -8.3 14.4 -5.6 5.1 -5.4 13.5 -127.5 0 1.4-28.5 2.7-7.5 3.8-6.1 1.5-1.4 3-1 16.5 1.4 9-1 10.5-2.8 7.5-3.9 4.5-4.4 17.7-21.3 11.2-31.5 4.2-7.5 5.9-7 15.1-11.3 4.5-2.2 3 1.7 7.5 10.4 3 1.4 1.5-.2 2.4-1.8 2.1-4.2 .9-4.8 .6-24.4 1.5-4.7 3-3.8 9-5.3 6-1.5 3 1.3 9 7.2 3 1.1 3 .1 3-1 2.5-2 3-6 0-7.5 -2.5-5.2 -3-2 -6-.7 -2.7-1.1 -3.9-4.5 -1.9-7.5 -2-25.1 -1.8-6.4 -2.7-5.2 -4.5-5.2 -4.5-3.3 -17-7.3 -4-2.6 -3-4.9 -5.4-13.5 -3.6-4.9 -3-1.8 -3-.3 -12.1 4.3 -9-1.3 -7.5-3.2 -12-7.2 -12-5 -1.5-3.1zM646.7 38.5l-2.8 .7 -3.8 2.3 -4.6 6 -1.5 4.5 -.6 4.5 .8 12 3.3 12 6.4 12.8 4.5 5.2 6 4.3 3 1 3-2.3 1.8-3 7.9-19.5 2-7.5 -.2-6 -2.1-6 -6.4-7.8 -6-9.4 -4.5-3.1 -6-.7zM435.3 42.8l4.5-.9 3 .2 3 1.4 2.6 2.5 3 7.5 1.5 13.5 0 28.5 -2.8 40.5 -1.6 7.5 -2.2 6 -2 3.4 -3 2.5 -3 0 -3-2.3 -3.2-5.1 -2.4-6 -8.5-34.5 -6.3-21 -2.2-13.5 0-6 .9-6 1.7-4.5 1.9-3 5.4-4.5 12-6zM100.6 311.5l5.9 2.9 4.5 1.1 2.1 14 -12.6 0 0-18z"/>
<path fill="#1bff00" fill-rule="evenodd" d="M178.6 32.5l149.8 0 1.4 27 -1.2 21 -1.7 7.5 -2.3 6 -9.7 16.5 -3 7.5 -1.5 10.5 1.2 12 3.4 9 5.3 6 6.9 3.9 18 7.2 4.5 3.2 3 3.3 5.3 7.9 4.7 9 2.3 7.5 .7 7.5 -.4 6 -1.2 4.5 -2.1 4.5 -3.3 4 -4.5 3.3 -4.5 2.3 -15 4.1 -6 2.6 -4.5 4.2 -2.3 5 -.8 6 .5 3 6.7 15 5.8 22.5 1.9 18 -.6 19.5 -129.3 0 7.6-19.5 1.9-9 -.5-7.5 -3-13.5 -.5-9 .7-25.5 2.3-33 .4-27 1.4-10.5 2.6-6 3.7-4.5 5.4-4 13.5-7.2 7.2-6.8 2.9-4.5 1.7-4.5 .9-6 -.1-6 -6.8-40.5 -3.1-7.5 -2.7-3 -1.5-.3 -3 2.2 -4.5 8.8 -3 3.3 -3-.7 -6-5.8 -3-.9 -3.2 .9 -5 3 -5.5 6 -1.5 6 .6 16.5 -.9 25.5 -2.2 7.5 -4.3 4.5 -5 2 -6 .7 -7.5-.4 -10.5-1.7 -9.1-2.3 -7.5-2.8 -6-3.3 -4.8-4.2 -3.8-6 -2.3-7.5 -.8-7.5 1.2-6 3.7-6 6.8-7.2 7.5-4.5 10.5-3 3.6-1.8 5-4.5 3.1-4.5 2.8-7.5 1.7-10.5 .6-13.5 -.5-16.5zM507.3 32.5l240.2 0 0 297 -46.1 0 1.9-13.5 3.1-7.5 1.7-7.5 2.5-24 1.9-9 2-3.7 3-1.6 3 .3 6 2.9 1.5-.7 1.1-4.7 -.2-3 -6.9-19.4 -3-4.7 -4.5-4 -3-1.2 -3 .5 -4.5 3 -4.5 4.3 -1.5 .5 -7.5-6.3 -6-2 -12.1 1.4 -12 2.6 -6.5 2.8 -5 4.5 -1.5 3 -.3 4.5 3.5 12 -.1 4.5 -6.7 15 -2.9 13.5 -3 10.3 -3 4.6 -3 2 -7.5 1.5 -6-1.2 -3-3.2 -5.3-9.5 -3.3-4.5 -3.4-2.4 -4.5-.7 -4.5 1.6 -3.6 3 -9.9 14.5 -12.1 8 -7.5 9 -2.8 4.5 -68.5 0 -.4-13.5 -1.7-1.5 -4.6-.9 -1.5 .4 -1.1 2 -2.9 13.5 -34.6 0 .4-21 .9-7.5 2.3-6 3.5-4 6-2.5 4.5-.4 4.5 .6 9 2.7 3-.1 15-6.2 4.5-2.7 27.9-30.9 6.2-19.5 3-7.5 4.4-7.5 5.5-6 8.5-5.7 7.6-3.1 3 .4 7.5 7.2 4.5 2.5 4.5-.5 2.6-2.3 1.6-3 1.1-6 .4-25.5 1.7-4.5 1.6-2 7.1-4 6.4-1 3 .9 10.5 5.6 6 .2 3-1.3 3-2.6 2.1-3.3 1.5-4.5 .4-4.5 -.5-4.5 -1.6-4.5 -1.9-2.9 -3-1.9 -7.5-.3 -3-2 -2.2-3.4 -2-10.5 -.9-28.5 -1.7-6 -4-6 -7.2-5.1 -17.3-6.9 -5.2-3.2 -3-3.7 -7.3-14.1 -4.7-4.3 -4.5-.7 -12.1 4 -9-.9 -6.2-2.6 -11.8-7.8 -6.9-2.7 -1.5-1.5 -.2-1.5zM642 37l-11.6 6 -3 2.8 -1.4 4.7 .9 7.5 8.8 24 7.6 15 3.6 4.5 3 2.5 6 3.3 3-.3 2.7-2.5 6.3-8.6 9-6.8 4.5-5.3 1.7-3.3 1.4-5.6 -.5-9.4 -1.9-4.5 -3.9-4.5 -4.3-2.3 -6-1.2 -3-2 -2.7-3.5 -3.3-6 -3-3.3 -6-2.2 -7.5 .9zM438.3 45.9l3 .2 3 1.4 2.5 3 1.5 3 2.1 9 1.1 15 -.4 27 -2 30 -1.1 6 -2.1 6 -1.6 2.9 -3 2.5 -3-.3 -2.5-2.1 -2.6-4.5 -2.2-6 -7.6-39 -4.3-18 -1.2-9 .8-9 3.7-7.5 8.4-7.3 7.2-3.2zM102 314.5l1.2 1.5 2.8 13.5 -5.5 0 0-15.6z"/>
<path fill="#2eff00" fill-rule="evenodd" d="M190.6 32.5l133.8 0 2.3 21 0 10.5 -1 10.5 -1.7 7.5 -2.8 7.5 -12.1 18 -3.9 9 -1.3 12 2.1 16.5 3.2 9.3 1.7 2.7 3.2 3 5.6 2.6 21 5.4 4.5 2 4.5 3.4 4.7 6.1 4.8 9 2.1 6 1.2 7.5 -.2 6 -1.5 6 -2.5 4.5 -4.1 4.5 -4.5 3.1 -4.5 1.8 -16.5 1.8 -6 1.6 -4.8 3.7 -2.2 6 -.4 12 .9 1.5 5 3.7 2.5 3.8 4.6 10.5 4.5 15 2.9 22.5 -.6 19.5 -123.9 0 1-7.5 4.9-21 -.2-46.5 2.8-37.5 -.9-25.5 1.2-12 2.8-7.5 4.7-6 5.1-3.2 12-4.6 5.4-4.2 4.3-4.5 3-4.5 2.1-4.5 1.2-6 0-6 -2.1-12 -9.6-36 -4.3-8.5 -3-2.5 -1.5-.1 -3 2.9 -4.5 9.9 -3 3.5 -3-.6 -6-7.4 -1.5-1.3 -3-.7 -6 1.6 -8 3.2 -6.7 4.5 -.9 4.5 5.1 15.4 .9 10.1 -2.4 22.5 -2 4.5 -4 4.2 -4.5 2.3 -6 1.2 -7.5 0 -9.1-1.3 -7.5-2 -6.9-2.9 -5.1-3.3 -3.9-4.2 -3.6-6.6 -2.5-8.4 0-6 1.4-4.5 4.1-6.3 6-5 6-3.2 14.9-5 11.8-6 3.5-3 1.8-6 -.1-21 .8-10.5 1-4.5 2.6-4.5 .6-3zM293.1 191.5l-4.1 3 -3.5 4.5 -1.8 4.5 .1 4.5 2.6 4.5 4.7 3.1 6.1 1.5 4.5-.9 2.1-2.2 1-3 .2-6 -1.1-6 -1.8-4.5 -1.9-2.5 -3-1.3 -3.1 .4zM514.8 32.9l84.8-.4 0 1.5 1.6 1.5 6.3 3 3.7 4.5 2.2 7.5 2.2 16.5 1.7 4.5 8.6 5.7 4.5 4.2 11.2 18.6 5.3 7 4.5 3.7 4.5 2.3 3 .3 6-1.7 4.5 1.4 4 5 4.9 16.5 4.7 6.4 5.2 4.1 5.6 3 10.2 1.8 7.5 2.2 4.5-1 3.8-3 2.6-4.5 .2-4.5 -1.3-3 -2.5-3 -22.2-15 -3.1-3 -2.7-4.5 -.9-4.5 .3-13.5 -1.2-30 -1.5-8.8 -3-3.3 -6.1-2.3 -3 .2 -6 2.4 -3-.6 -3-2.8 -4.5-9 -6.2-5.8 94.8 0 0 297 -43.1 0 .8-13.5 3.3-12.7 2.4-24.8 2.2-10.5 2.9-3.8 3-.4 3 1.2 4.5 3.5 1.5 .2 1.5-2.1 3-9.1 -.4-4.5 -6.4-25.5 -3.7-4.9 -3-1.5 -4.5-.6 -4.5 2 -9 8.7 -3 1.4 -10.5-7.3 -4.5-1.1 -28.6 4.4 -7.5 2.8 -4.5 3.6 -2.1 4.5 .1 4.5 1.9 6 5.2 10.5 .4 4.5 -5 13.5 -5 21.2 -3 5.3 -3 2.2 -7.5 1.8 -3-.1 -3-1.1 -3-3.2 -8-12.6 -4-2.9 -4.5-.7 -4.5 1.5 -2.9 2.1 -9.1 11.7 -3 2.7 -19.5 8.5 -12.2 14.6 -47.4 0 -5.6-15 -7.7-9 -1.7-3 -.4-3 .7-3 2.1-3 9.1-8.2 16.5-20.3 14.6-13.5 1.5-3 4.9-16.5 6-11.2 4.5-4.8 4.5-3.1 6.1-2.4 4.5-.7 4.5 1.3 7.5 5.4 6 2.5 18 3 6-1 4.5-2.4 4.2-4.6 2-4.5 1.1-6 -.4-6 -.9-2 -1.5-.9 -13.5 1.1 -4.9-1.2 -2.2-3 -1.1-4.5 -.2-4.5 .9-4.7 1.5-2.2 3-2 4.5-.8 3 .2 6.8 3.5 8.2 8.1 3 0 6-4.6 4.5-6.2 3.3-7.8 1.2-7.5 -.2-6 -1.1-4.5 -1.8-4.5 -2.9-4.3 -3-1.6 -6 1.3 -3-.5 -2.8-2.4 -2.1-4.5 -1.3-9 -.2-10.5 3.1-30 -.3-3 -1.3-3 -2-1.5 -3.6-1.3 -21-5.2 -8.8-4 -4.7-4.4 -7.5-12.2 -4.5-4.1 -3-.9 -3 .1 -12.1 4.5 -7.5-.2 -7.5-3.2 -11.3-8.1 -.9-1.5zM438.3 50.3l4.5 1.3 1.8 1.9 2.3 4.5 2 9 1.2 15 -.2 24 -1.9 28.5 -2.2 9 -1.6 3 -2.9 2.5 -3-.5 -1.5-1.3 -2.3-3.7 -2-6 -3.6-19.5 -5.5-42 .4-7.5 2.5-7.5 5.8-7.5 5.4-3zM454.8 290.4l6-.9 7.5 1.7 5.9 3.8 3.4 4.5 1.8 4.5 .2 3 -3.5 22.5 -32.3 0 .5-21 .8-7.5 1.8-4.5 1.9-2.6 3-2.3 2.8-1.1z"/>
<path fill="#40ff00" fill-rule="evenodd" d="M226.6 32.5l93.7 0 2.4 10.5 .9 7.5 0 10.5 -1.1 10.5 -2.5 9 -3.3 7 -4.5 6.2 -11.2 12.3 -2.7 4.5 -2.3 6 -1.2 10.5 2.4 27 -1 10.5 -3.9 7.5 -11.7 14 -6 8.5 -3.8 7.5 -1.1 6 1.7 6 5.7 6 6.5 4 15.1 6.8 5.3 4.2 1.8 3 1.5 4.5 1.8 15 1 1.5 5.1-1.5 3 .3 3 2.2 2.2 3.5 3.5 7.5 3.6 10.5 3.1 12 1.8 16.5 -.6 19.5 -54.1 0 -.2-15 -2.9-3 -7.5-1.7 -7.5 .9 -3 1.3 -3 2.4 -4 15.1 -35.4 0 -.9-15 5.7-40.5 .7-27 2.8-24 -.3-6 -3.8-22.5 .2-7.5 1.2-7.5 3.4-7.5 4.5-4.5 4.9-1.8 7.5-.4 3-.8 5-3 7.3-6 5.3-6 2.8-4.5 1.9-4.5 .9-6 -1.6-12 -11.5-37.5 -4.9-12 -5.2-7.7 -4.5-2.8 -1.5 .4 -1.5 1.4 -6 14.9 -1.8 2.8 -1.2 1.1 -1.5 .2 -3.2-2.8 -4.3-8.3 -3-3.8 -3-.6 -9 .3 -4.5-.9 -3-1.8 -2.9-4.4 -1.1-4.5 .1-6 1.3-4.5 2.6-3.5 6-3 16.5-2.4 3.2-1.6 2.3-3zM520.8 33.3l.4-.8 55.7 0 0 1.5 1.6 1.5 11.4 3.3 7.5 4.2 2.5 3 1.3 3 .3 4.5 -.8 3 -2.7 3 -3.6 1.4 -4.5 .2 -4.5-.9 -4.5-1.9 -4.7-3.3 -9.9-13.5 -3.4-2.6 -3-.8 -4.5 .2 -12.1 5.7 -7.5 .8 -4.5-1.2 -3.6-2.1 -6.9-6 -.3-1.5zM658.9 32.5l88.6 0 0 14.8 -3 .6 -1.6 2.6 -1.3 4.5 -.4 4.5 .8 9 2.5 13.8 1.5 2.7 1.5 .2 0 244.3 -41.4 0 .4-13.5 2.9-15 2.2-24 2.2-9 2.2-2.8 3-.4 3 1.4 4.5 4.1 1.5 .6 1.5-1.3 2.3-6.1 4.5-7.5 -1.5-13.5 .1-9 .9-6 3.7-12 .6-4.5 -1.7-4.5 -5.9-7 -4.5-2.9 -1.5 0 -3 1.6 -9 10.1 -9.8 16.2 -3.7 3.7 -3 1.3 -3-1.2 -7.5-6.5 -3-1.6 -3.1-.1 -15 2.2 -27 1 -6-1.4 -1.9-1.9 -1.1-2.5 -.6-6.5 1.2-7.5 3.1-9 9.6-21 1.5-6 .4-6 -.9-4.5 -2.9-6 -6.4-10.5 -5-6.2 -1.5-1 -1.5 .2 -4.5 3.5 -4.5 .8 -3-1.8 -1.9-3 -2-12 .4-13.5 2.4-10.5 1.1-2.6 3-3.3 3-.4 7.5 2.2 3 1.7 3 3.1 18.2 26.3 2.6 6 3.2 15 2.1 3 4.4 3 28.1 12.7 3-.2 4.5-1.7 3 .2 3 2.3 6 6.9 4.5 1.5 4.5-1.4 4.5-5.2 3-9 1.5-8.4 1.9-18.7 -.4-4.6 -1.4-2.9 -8.9-6 -7.5-7.5 -4.2-6 -3.5-8.7 -1.5 .2 -4.5 3.5 -1.5 .2 -3-1.9 -2-3.8 -3-13.5 -.8-27 -1.4-6 -3.3-2.3 -7.6-1.3 -3 1.1 -4.5 4.3 -3 .9 -1.5-.4 -3.3-3.8 -4.9-12zM436.8 55.7l3-.4 1.5 .6 2.1 2.1 1.6 3 2.4 9 1.3 13.5 0 21 -1.7 30 -1.9 7.5 -2.3 3.6 -1.5 .9 -3-.7 -1.5-1.6 -3.2-8.2 -3.3-22.5 -2.6-27 -.2-10.5 1-7.5 3-7.5 3.9-4.5zM172.6 92.4l9-.4 6 2.2 6 5.8 2.5 4.5 1.4 4.5 .3 7.5 -3 19.5 -1.5 3 -2.7 3.2 -3 2 -4.5 1.7 -7.5 .9 -9-.7 -7.6-1.8 -7.5-3.5 -4.1-3.3 -3.5-4.5 -3.8-7.5 -1.9-6 -.1-4.5 1.2-4.5 2.8-4.5 3.4-3.4 9-5.1 17.7-5zM321.2 170.3l6-.6 6 .3 10.5 2.9 4.5 3 3 3.3 5.3 9.3 2 6 1 6 -.1 6 -1 4.5 -2 4.5 -3.7 4.9 -4.5 3.4 -4.5 1.7 -6 .1 -13.5-3 -5-2.6 -3.2-4.5 -1.8-6 -1.7-9 -1.4-12 -.1-7.5 1-4.5 1.7-2.6 2.4-1.9 4-1.5zM555.4 216.9l4.5-.2 4.5 1.4 19.5 11.8 7.5 3.1 9 .8 18-1.9 6 .6 3 2.6 15.6 23.9 2.2 4.5 .3 3 -3.6 12 -4 18.4 -2.7 5.6 -3.3 3.1 -3 1.3 -4.5 .8 -3-.1 -3-1.2 -3-3.1 -5.1-8.3 -3.9-4.7 -4.5-2.3 -4.5 .1 -3 1.1 -3.9 2.8 -8.1 9.2 -3 2.2 -9 3.8 -7.5 1.8 -3 1.5 -15.1 19 -42.2 0 -3.6-7.5 -4.3-12 -1.5-6 -.3-4.5 .5-3 2.3-6 12-18 10.1-10.9 11.6-8.6 2.9-3 5-16.1 4.5-8.3 6-5.8 6.9-2.8zM453.3 291.9l6-1.3 6 .6 6 2.9 3.3 3.9 2 4.5 .8 6 -2.2 21 -30.8 0 .9-27 2.3-6 2.7-2.9 2.9-1.6z"/>
<path fill="#52ff00" fill-rule="evenodd" d="M250.6 32.5l65.4 0 .3 3 3.3 9 1 12 -1.5 13.5 -3.6 10.5 -3.3 5.5 -4.5 4.6 -21.1 15 -6 2.6 -3-.5 -3-2.2 -3-3.9 -2.9-6.1 -9.1-31.7 -3-6.9 -7.3-12.4 -.6-4.5 .5-7.5zM525.3 33.9l1.2-1.4 24.1 0 .7 1.5 -.5 1.5 -7.5 5.4 -6 1.6 -4.5-.9 -2.9-1.6 -4.7-4.5 .1-1.5zM661.9 32.5l56.1 0 0 1.5 -1.3 1.5 -9.4 3 -2.4 3 -.5 4.5 1.1 19.5 -.7 12 -2.8 10.5 -2.5 2.8 -1.5 0 -1.5-1.2 -1.7-3.1 -2.3-10.5 -.5-12 .9-18 -.9-5.1 -1.5-1.6 -3-.9 -10.6-.3 -2.5 1.9 -4.2 6 -2.3 .9 -1.5-.3 -2-2.1 -1.3-3 -1.7-6 .3-3zM746 32.5l1.5 0 0 1.5 -1.5 0 0-1.5zM228.1 37.9l3 .2 2.7 1.9 3 4.5 1.1 4.5 -.3 6 -3 15 -2 6.2 -3 4.4 -1.5 .2 -1.5-1 -2.4-3.8 -2.9-9 -3.3-13.5 .2-3 2-4.5 3.1-4.5 3.3-3zM438.3 60.8l3 .9 3.1 5.3 2 9 1.1 13.5 -1.3 43.5 -1.9 8 -3 3.3 -1.5 0 -2.5-2.3 -2.7-7.5 -2.9-24 -1.4-19.5 0-10.5 1.2-9 2.3-6.4 1.5-2.2 2.6-1.9zM728 65.1l3 .9 4.1 5.5 2.5 7.5 1.4 9 .2 7.5 -1.1 7.5 -1.8 4.5 -3.8 3.5 -4.5 .3 -3.3-2.3 -3.6-6 -1.9-7.5 -.4-9 1.2-9 2.7-7.5 2.3-3.3 1.9-1.2zM169.6 95.5l9-.2 7.5 2.5 6 5.5 3 7.2 0 6 -3.7 19.5 -3.8 4.6 -7.5 3.2 -6 .7 -7.5-.6 -6.1-1.4 -6-2.8 -3-2.3 -3.6-4.4 -5.1-9 -1.8-4.5 -.4-4.5 .5-3 2.3-4.5 2.8-3 8.3-5.1 14.9-3.9zM618.4 96.3l3 1 2.2 2.7 3.1 7.5 1 6 -1.1 16.5 -1.2 3 -2.9 3 -2.6 1 -3.2-1 -2.3-3 -1.5-6 -.7-10.5 .7-9 2.1-7.5 2.3-3zM738.5 129.6l1.5-.5 2.1 2.4 5.4 15 0 48.2 -3 1 -4.5-1.3 -3-2.3 -3.4-6.6 -1.7-7.5 -.2-12 1.5-16.5 2.3-12.4 2.7-7.1zM265.6 164l4.5-.9 3.3 1.4 1.2 3 -.7 6 -2.3 5.2 -4.4 6.8 -14.7 18 -2 4.5 -.1 4.5 3.5 4.5 10.1 7.5 8.3 4.5 16.6 7.5 6.4 4.5 2.4 3 2.1 4.5 1.1 6 .3 7.5 .6 1.5 1.9 1.5 4 2.6 1.5-.2 4-6.9 2-1.4 3-.1 3 2.4 5.5 11.1 6.2 19.5 2.2 18 -.6 19.5 -47.5 0 -.1-28.5 1.4-10.5 -.2-1.5 -1.5-.6 -16.5 7.6 -7.5 1.5 -1.5 1 -4.5 7.5 -10.7 23.5 -26.1 0 -1.8-15 2.3-18 2.6-13.5 5.4-19.5 1.9-19.5 4.4-19.5 -1.2-4.5 -5.3-8.3 -3.6-9.7 -1.3-10.5 1.2-10.5 3.4-7.5 4.8-3.9 4.5-.6 9 3.2 3 .1 15.3-7.8zM666.4 165.8l4.5-.1 4.5 1.2 16.6 9.2 3-.4 4.5-4.8 3-1.6 2.3 1.2 2.2 3.1 2.2 5.9 1.6 7.5 .4 7.5 -.7 9 -1.5 7.5 -2.8 7.5 -3.7 5.5 -4.5 2.8 -4.5-2.1 -6-6.9 -3-2.2 -3.1-.2 -12 2.5 -10.5-.5 -10.5-2.9 -3-2 -2.2-3 -.9-4.5 .4-4.5 1.8-6 3.4-7.5 9.5-15.1 4.5-4.2 4-1.7zM331.7 174.8l9 1 6 3 3 3 3 4.5 3.5 9.7 .6 9 -.8 4.5 -1.7 4.5 -3.1 4.5 -3 2.7 -6 2 -3.2-.2 -4.4-1.5 -8.9-5.9 -3.7-4.6 -2.7-7.5 -1.2-12 1.6-8.6 3.5-4.9 2.5-1.6 4.7-1.4zM552.3 224l6.1-.6 6 1.7 18 12.5 6 2.8 7.5 1.2 16.5 .4 7.5 1.4 7.5 4 7.5 7.1 7 9 1.1 3 0 3 -3.9 19.5 -2.7 9 -3 4.7 -4.5 2.8 -6 .9 -4.5-1.3 -3-3.1 -5.4-8.5 -3.6-3.9 -4.5-2.1 -4.5 0 -6.2 3 -10.3 9.1 -9 3.7 -10.5 2.7 -3 3.1 -7.7 11.4 -7.5 9 -39.2 0 -3.7-7.5 -4.4-13.5 -.5-10.5 2.2-7.5 7.8-13.5 7.9-9.8 7.5-7 15.4-10.2 5.7-16.5 4.4-5.9 4.8-3.1zM746 224l1.5 0 0 105.5 -40.2 0 .4-15 2.3-13.1 1.9-22.9 1.9-9 2.2-3.3 3-.5 3 1.6 4.5 4.6 1.5 .6 1.8-1.5 4.2-9.2 5.4-4.3 1-3 -.9-9 .5-7.5 2-7.5 3.2-6zM456.3 291.7l4.5-.5 6 1.4 4.2 2.4 2.5 3 1.9 4.5 1 6 -2 21 -29.5 0 .3-21 1-7.5 3.4-6 5.8-3z"/>
<path fill="#64ff00" fill-rule="evenodd" d="M262.6 32.5l48.6 0 .5 3 2.8 4.5 2.2 7.5 .7 10.5 -1.3 10.5 -2.9 9 -2.9 4.5 -4.1 3.3 -12.1 4.6 -6 1.1 -4.5-.5 -3-1.4 -3-2.8 -3-4.9 -3.4-9.9 -5.5-24 -4.3-12 -.2-3zM531.3 33.4l2-.9 7.7 0 2.7 1.5 .5 1.5 -2.4 2 -3 1.5 -4.5-.2 -4.6-3.3 .7-1.5zM664.9 32.5l7.7 0 1.2 1.5 -.1 1.5 -3.2 7.5 -2.6 2 -1.5-.3 -1.5-1.7 -1.1-4.5 .1-4.5zM696.5 35.5l1.8 0 -1.9 0zM226.6 42.9l3-.9 1.6 1 2.5 4.5 1.2 6 0 7.5 -1.1 7.5 -1.8 6 -2.4 3.6 -1.5 .2 -1-.8 -2-3 -2.7-12 .4-12 1.6-4.5 2.1-3zM698 41.6l1.5 1 2 4.9 2.3 13.5 -.4 15 -1.4 6 -1.5 3 -1 1.3 -1.5 .2 -1.5-1.2 -2-4.8 -1.4-9 .6-16.5 1.3-6.9 1.9-5.1zM436.8 68.4l1.5-1.1 1.5 0 1.5 1 1.5 2.4 1.6 5.3 1.4 9 .5 15 -1 31.5 -.9 6 -1.6 3.4 -1.5 1.2 -1.5 0 -1.5-1.3 -1.7-3.3 -1.2-6 -2.2-24 -.8-15 .3-10.5 1.3-7.5 2.7-6zM726.5 74.5l1.5-.9 3 .7 2.3 3.2 2 6 .6 6 -.3 6 -1 4.5 -2.1 3.9 -3 1.7 -3-1.2 -2-2.9 -1.6-4.5 -.8-6 .5-7.5 1.8-6 2.1-3zM163.5 98.5l9.1-1.2 9 1.5 6.7 4.2 3.8 6 .6 6 -2.7 10.5 -1 9 -3.5 4.5 -5.4 2.6 -6 .9 -6-.2 -6.1-1.4 -4.5-2 -5-4.4 -8.7-15 -.8-4.5 .5-3 3.5-5.8 6.9-4.7 9.6-3zM618.4 99.8l1.5 .4 2.3 2.8 1.7 4.5 .9 6 .6 16.5 -1.2 3 -2.8 2.7 -3 .3 -3-2.6 -1.3-3.4 -.9-6 -.3-9 .9-7.5 1.6-4.8 2.6-2.7zM738.5 138.4l1.5-.4 2.6 4 4.7 18 .2 21.1 -.7 1.4 -2.3 2.9 -4.5 1.4 -3-2.7 -2.2-6.1 -1-10.5 .4-12 1.7-10.5 2.2-6zM234.1 171.8l4.5 .8 4.3 3.9 2.4 4.5 1.2 6 -.5 7.5 -1.9 7.5 -3 6 -4 3.6 -3 .2 -1.5-.6 -3-2.8 -3.2-6.4 -1.5-7.5 0-7.5 1.7-7.5 3-5.1 3.8-2.4zM666.4 174.9l4.5-.8 6 2.3 5.4 4.6 6.7 7.6 3 1.7 1.5-.5 1.5-1.7 3.8-8.6 2.2-3.1 1.5-.7 1.5 .5 1.3 1.8 1.7 4.5 1.3 7.5 -.2 15 -3.1 12 -2.5 4.2 -3 2.6 -3 .4 -3-2 -2.9-3.7 -4.6-8.6 -1.5-.9 -3.1 .6 -7.5 3.1 -7.5 .6 -7.5-2.3 -4.8-4.5 -1.2-3 -.3-4.5 2.3-9 5.5-10.1 3-3.2 2.8-1.7zM333.2 180.5l6-.6 6 2.2 4.8 4.9 3.5 7.5 1.2 9 -1.4 7.5 -3.4 6 -4.7 3.4 -4.5 .5 -6-2.8 -5.3-5.6 -3.7-7.5 -1.5-7.5 .6-7.5 2.4-5.3 4.6-3.7zM555.4 230.5l4.5 .3 4.5 1.6 15 11 6 2.8 27 1.8 10.5 2.7 7.5 4.8 6.6 6.5 3.6 6 .2 4.5 -2.4 15 -1.9 7.5 -3.1 5.7 -3 2.5 -6 1.9 -4.5-.6 -3-2 -7.4-10.5 -3.1-3.1 -4.5-2.1 -6 .4 -4.5 2.1 -10.5 7.3 -10.5 3.8 -6 1.1 -3 1.5 -3 3.6 -8.8 13.9 -7.6 9 -37 0 -4.3-9 -3-9 -1.1-7.5 .2-6 1-4.5 3-7.5 9.9-15 7.1-7.4 4.5-3.6 7.5-4.3 9.6-4.2 2.2-3 2.1-7.5 2.6-5 4.5-4.1 4.5-1.4zM250.6 237.8l4.5-.4 6 .8 12 3.2 7.5 3.2 3.6 2.4 2.7 3 1.8 4.5 .2 4.5 -1 4.5 -4.6 9 -11.5 18 -1.7 1.4 -3 1.1 -3-.6 -3-1.7 -1.5 .4 -6.7 18.9 -9 19.5 -22.6 0 -1.9-12 0-6 3.4-22.5 3-10.5 3.4-9 3.4-6.7 6.9-9.8 3.6-9.4 3-3.5 4-2.1zM746 237.3l1.5 0 0 92.2 -39.3 0 .3-15 1.9-12 2.1-24 1.9-9 1.6-2.3 3-.6 3 1.7 4.5 5 1.5 .6 1.5-.7 3.5-8.2 2.2-3 3.3-1.9 4.2-1.1 1.3-1.5 -.3-13.5 .8-4.8 .9-1.2zM315.2 260.4l3-.4 3.6 3.5 4.3 9 5.2 15 1.7 7.5 1.8 15 -.6 19.5 -45.8 0 .3-30 7.7-27 2.3-3.5 3-1.7 3 .6 3 2.1 1.5 .2 3.4-6.7 2.5-3zM459.3 291.9l4.5 .4 4.5 1.7 3.3 2.5 1.9 3 1.5 4.5 .6 6 -1.8 19.5 -28.4 0 .3-21 .9-7.5 1.3-3 2.4-2.9 4.5-2.4 3.6-.7z"/>
<path fill="#76ff00" fill-rule="evenodd" d="M273.1 32.5l31.9 0 .8 3 3.4 3.1 3 5.2 2 8.2 .3 9 -1.3 9 -2.4 6 -1.6 2.3 -3 1.9 -13.6 .7 -4.5-.7 -4.5-2.2 -3.3-3.5 -3.3-6 -3.6-13.5 -1.2-10.5 -.4-12zM666.4 34.9l1.5-.4 1.8 1 -.7 6 -1.1 1.1 -1.8-1.1 -.5-3 .4-3zM226.6 47.3l1.5-1.3 1.5 .1 1.5 1.4 2 6 .2 10.5 -2.2 9.4 -1.5 2.1 -1.5 .2 -2.1-2.7 -1.7-6 -.2-12 2.4-7.5zM698 48.7l1.5 .7 1.5 2.9 1.9 11.7 -.8 12 -1.1 4 -1.5 2.5 -1.5 .5 -2-2.5 -1.4-4.5 -.7-6 .7-13.5 1.9-6.3 1.2-1.2zM438.3 75.1l1.5-.3 1.3 1.2 1.4 3 2 12 .3 12 -.9 16.5 .4 12 -1.5 6.8 -1.5 1.5 -2.2-.8 -1.6-3 -.8-4.5 -2.3-39 .9-9.9 2.3-6.6zM728 79.4l1.5-.1 1.5 1.1 2.2 6.1 0 7.5 -2.2 5.5 -1.5 .9 -1.5-.3 -1.5-1.6 -1.5-4 -.3-8 2.2-6zM165 99.8l9.1-.5 7.5 2 4.8 3.2 2.3 3 1.3 3 .2 4.5 -3.2 10.5 -.9 9 -3 3.5 -6 2.4 -9 .2 -4.6-1.1 -4.5-2.2 -4.1-4.3 -9-15 -.5-3 .4-3 2.7-4.6 6.1-4.4 9.4-3zM618.4 102.6l1.5 .6 1.5 2.2 2 8.1 1.1 16.5 -1.1 3 -2 2 -3 .3 -1.5-1 -1.8-2.8 -.7-3 -.8-9 .3-7.5 1.5-6.3 2.2-2.7zM738.5 144.9l1.5-.4 1.5 2.2 2.6 10.3 .9 12 -1.5 7.5 -2 3.1 -1.5 .6 -1.5-.7 -1.5-2.8 -1.1-4.7 -.3-15 1.4-8.8 1.4-3.2zM232.6 174.7l3-.4 3.8 2.2 2.8 4.5 1.1 4.5 .3 6 -1.3 7.5 -2.2 4.8 -3 3.3 -3 .7 -3-1.5 -3-4.5 -1.7-5.8 -.4-7.5 1.1-6 2-4.5 3-3zM667.9 182.1l4.5 .1 3 1.9 3.3 4.4 1.5 4.5 .2 4.5 -.8 3 -1.8 3 -3.9 3.2 -4.5 1.2 -4.5-1.1 -3-2.8 -1.5-3.5 -.3-4.5 1.4-6 2.4-4.5 3.3-3zM702.5 181.7l1.5 .8 1.8 4.5 1 7.5 -.1 7.5 -2.3 12 -1.9 4 -3 3.2 -3 .5 -3-2.3 -2.7-5.4 -.9-6 .8-4.5 5.8-8.3 3-9.2 1.9-3.5zM336.2 185.5l4.5-.9 4.5 1.5 3.8 3.9 2.8 6 1 7.5 -.9 6 -3.1 6 -3.6 2.8 -4.5 .5 -3.7-1.8 -3.9-4.5 -2.6-6 -1.1-7.5 .8-6 2.3-4.5 3.6-3zM555.4 239.1l4.5-.2 4.5 1.4 12 8.3 4.5 2 18 .5 18 2.3 7.5 2.7 7.5 5.2 4.5 5 1.7 3.2 .7 4.5 -.8 9 -1.6 8.5 -1.8 5 -2.7 3.8 -4.5 2.8 -4.5 .7 -4.5-1.4 -3-3 -6.3-8.9 -4.2-3.4 -4.5-1.1 -4.5 .4 -12 5.9 -21 6.7 -3 3.2 -10.1 16.8 -8.7 10.5 -35.2 0 -4.9-10.5 -2.4-7.5 -1-6 .5-9 4.4-12 7.8-12 9-9.3 10.5-6.6 7.5-2.5 6.8-1.1 2.2-1.2 3.2-7.8 2.4-3 2.3-1.5zM264.1 249.8l4.5-.3 3 2 2.5 3 2.7 4.5 3.1 7.5 -.1 6 -7.8 15 -2.7 3 -3.7 .6 -6-5 -1.5 .9 -5.4 20 -5.5 13.5 -4.7 9 -20 0 -2.2-16.5 2.1-16.5 1.9-9 2.8-9 3.7-9 2.6-4.5 3.7-4.3 4.5-2.7 4.5-.6 3 .6 4.5 2.6 1.5 .1 1.5-1.4 3.6-6.3 3.5-3zM315.2 261.6l3-.7 1.5 .9 2.3 3.2 3.5 7.5 5.8 16.5 3.1 21 -.5 19.5 -44.6 0 .2-28.5 8-27 1.6-3 2.6-2 3 .3 4.5 2.7 1.5-1.5 4.1-8.5zM737 261.8l7.5-.9 3 1 0 67.6 -38.6 0 .3-15 1.7-12 2.1-23.9 1.6-7.6 1.4-2.6 1.5-.9 1.5 0 3 1.9 4.5 5.1 1.5 .6 1.5-.6 1.5-2.1 2.8-7.4 3-3zM454.8 293.3l6-.9 4.5 .9 4.5 2.3 2.9 3.9 2.2 9 -1.6 21 -27.4 0 -.3-7.5 1.1-19.5 2.8-6 4.8-3z"/>
<path fill="#89ff00" fill-rule="evenodd" d="M277.6 32.7l16.2-.2 1.3 3 6.6 3.3 4.5 3.3 3 4 2.5 7.4 .6 7.5 -.9 7.5 -2.2 5.2 -3 2 -1.5-.2 -7.5-3.7 -10.6-1.4 -4.5-2.8 -3.2-5.1 -2.5-9 -.6-10.5 1.5-9zM228.1 50l1.5 .2 1.5 2.2 1.1 5.6 -.4 9 -2.2 5.6 -1.5 .2 -1.5-2.1 -1.4-6.7 .2-7.5 1.2-4.5 1.1-1.5zM698 52.9l1.5 .8 1.1 2.8 1.2 7.5 -.4 9 -1.9 6 -1.5 .7 -1.5-1.7 -1.7-8 .4-10.5 1.3-4.8 .9-1.2zM439.8 84.8l1.8 3.2 1.3 10.5 -.2 7.5 -1.4 12 1.7 13.5 -.3 3 -1.4 2.5 -1.5-.2 -1.6-3.8 1-15 -2.5-16.5 .4-10.5 1.2-4.9 1.2-1.1zM729.5 86.4l.9 3.1 -.9 3.9 -1.5-.8 -.4-3.1 .4-2.3 1.3-.7zM165 101.4l7.6-.4 7.5 1.9 4.6 3.1 2.7 4.5 .4 4.5 -4 10.5 .1 6 -.8 3 -3 2.8 -4.5 1.6 -7.5 0 -7.2-2.9 -2.7-3 -3.1-6 -5.1-6.4 -1.9-4.1 .1-4.5 2.8-4.5 5-3.4 8.3-2.6zM616.9 105.9l1.5-.8 1.5 .9 1.9 4.5 2.2 18 -1.1 4.1 -1.5 1.6 -3 .3 -1.8-1.5 -1.4-3 -.9-15 1-6 1.5-3zM738.5 151.8l1.5-.5 1.9 5.7 .5 7.5 -.9 6.5 -1.5 2.2 -1.5-.9 -1.2-4.8 -.3-8.2 1.3-6.8zM232.6 177l3-.3 2.2 1.3 2.2 3 1.4 4.5 .4 4.5 -.7 6 -1.6 4.5 -2.4 3.2 -3 1.1 -3-1.6 -1.8-2.7 -1.6-4.5 -.5-6 .4-4.5 1.5-4.5 2.1-3zM337.7 189.7l3-1.1 3 .4 3 2 3.1 5 1.1 4.5 0 6 -1.2 4.5 -3 4.2 -3 1.6 -4.5-.8 -3-2.7 -2.1-3.8 -1.4-6 .1-4.5 1.9-5.9 2.6-3.1zM702.5 188.6l1.5 1.6 .6 2.8 .4 9 -1 7.8 -3 6.9 -3 2.2 -2-.4 -2.5-3 -.9-4.5 .8-4.5 4.6-7.3 3.3-9.2zM558.4 249.5l3-.9 3 .3 13.5 6.3 15-1.6 7.5 .5 18 3.8 9 4.1 6.4 6 1.8 3 1.1 4.5 -.1 7.5 -1.2 7.5 -2 5.4 -3 3.9 -4.5 2.4 -3 .3 -3-.7 -3-2.1 -6.8-9.2 -3.7-3.4 -4.5-1.7 -6 .2 -9 3 -7.5 1.3 -9 3.5 -4.5 .9 -3 1.7 -3 3.9 -9.9 17.6 -9.8 12 -33.5 0 -4.4-9 -2.5-7.5 -1.4-10.5 .5-6 1.7-6 6.2-12 4.3-6 5.2-5.7 9-7 6-2.9 6-1.6 4.5-.2 10.5 1.1 1.6-1.1 3.7-5.1zM265.6 251.5l3 .2 1.5 1 3.8 4.8 4.4 9 .5 3 -.4 3 -6.8 13.5 -3 3.5 -3 .2 -2.7-2.2 -3.3-4.2 -1.5-1 -.6 .7 -5.9 24 -4.8 12 -5.4 10.5 -18 0 -2-12 -.1-6 1.9-15 2.9-12 6-15 5-6.8 4.5-2.8 4.5-.3 3 1.1 4.5 3.6 1.5 .2 3-3.5 3.6-6.5 3.9-3zM316.7 261.8l3 1 3.2 5.2 6.5 16.5 2.3 7.5 2.4 18 -.5 19.5 -43.6 0 .2-28.5 7.7-25.5 1.4-3 2.4-2.3 3 .2 4.5 2.9 1.2-.8 3.3-7.5 2.5-3zM737 262.8l4.5-.7 6 1.2 0 66.2 -37.9 0 .2-15 1.7-11.7 1.9-22.8 2-9 2.1-2.4 1.5-.1 3 2.1 4.5 5.2 1.5 .5 1.5-.5 1.5-1.8 3-7.8 2-2.7zM456.3 293.4l4.5-.5 4.5 .9 4.5 2.5 2.4 3.2 1.6 4.5 .6 6 -1.6 19.5 -26.5 0 .2-21 1-7.5 2.8-4.6 5.7-2.9z"/>
<path fill="#9bff00" fill-rule="evenodd" d="M282.1 33.6l1.5-1.1 1.5 0 1.5 1 10.6 13.4 3 1.6 4.5 .8 3 2.4 1.5 3.3 1 6 -.7 6 -1.5 3 -1.8 1 -2-1 -5.5-10 -1.5-1.2 -1.5 0 -6.4 3.7 -2.7 .8 -3-.8 -1.5-1.4 -2.8-6.1 -1-7.5 .8-8.3 2.7-5.2zM228.1 54.5l1.5 .2 1.4 4.8 -.1 4.5 -1.3 4.9 -1.5 .3 -1.5-4.1 0-6.6 1.2-3.5zM698 56.8l1.5 1.2 1.3 6 -.1 6 -1.2 5.2 -1.5 1 -1.5-2.4 -.5-2.3 -.3-7.5 1.4-6zM165 102.9l7.6-.2 6 1.6 4.4 3.2 2.3 4.5 -.4 4.5 -4.6 9 .3 7.5 -2.8 3 -3.7 1.2 -6-.2 -5.2-2.5 -2-3 -1.9-4.5 -6-6.5 -2.3-4 -.1-4.5 2.4-3.8 4.5-3 7.1-2.2zM616.9 108.4l1.5-.8 1.5 1.3 1.1 3.1 .8 9 1.6 7.5 -.6 3 -1.4 1.9 -3 .4 -1.5-1.3 -1.1-2.5 -.8-13.5 .4-4.1 1.2-3.4zM232.6 179.3l3-.2 1.5 1.1 2.6 5.3 .5 4.5 -.4 4.5 -2.7 6 -1.5 1.2 -3-.1 -2.3-2.6 -1.6-4.5 -.3-4.5 .5-4.5 1.1-3 2.4-3zM339.2 192.7l3-.8 3 1.1 2.5 3 1.2 3 .7 4.5 -.5 4.5 -1.1 3 -2.6 3 -3.2 .9 -2.6-.9 -1.9-1.8 -2.1-4.2 -.7-4.5 .4-4.5 1.1-3 2.4-3zM701 201.4l1 .6 .5 1.5 -1.5 7.9 -1.5 2.5 -1.5 .9 -1.8-.8 -.6-3 .9-2.8 4.2-6.2zM265.6 252.8l3 .3 1.5 1.2 3.4 4.7 3.7 7.5 .6 3 -.4 3 -6.8 13.5 -2 2.2 -1.5 .6 -3-1.4 -6-7.9 -1.5-.3 -2.2 12.8 -3.3 13.5 -5.9 15 -4.8 9 -16.1 0 -2-12 -.2-6 2.2-16.5 3.1-12 5.8-13.5 5.4-6.6 3-1.6 4.5-.3 3 1.4 4.5 4.5 1.5 .1 3-3.8 4.5-8 2.7-2.2zM591.4 255.9l7.5 .3 19.5 5.4 6 2.5 5.1 3.9 3.9 5.3 1.6 6.7 -.6 9 -3 7.5 -4 3.6 -3 .9 -3-.1 -4.5-2.7 -7-9.2 -5-3.7 -6-1 -10.5 1.6 -7.5-.7 -3 .6 -6.9 3.2 -5.1 1.4 -3 2.4 -12.7 23.2 -10.7 13.5 -32.1 0 -3.8-7.5 -3.2-9 -1.2-6 -.1-6 .9-6 1.9-6 7.6-13.5 5-6 6.5-6 5.8-3.8 7.5-3 4.5-.6 4.5 .4 13.6 5 1.5-.2 6-3.7 3 .2 9 2.5 14.5-4.3zM316.7 262.7l1.5 0 1.5 1 3 5 8.5 23.3 2.5 18 -.4 19.5 -42.7 0 .3-28.5 7.3-24 2-4.3 1.5-1.4 3 .1 4.5 3 1.5-.8 4.9-10.1zM738.5 263.1l3-.1 6 1.3 0 65.2 -37.2 0 .1-15 3.3-33 2.3-9.7 1.5-2 1.5-.1 2.1 1.3 5.4 5.9 1.5 .5 1.5-.5 2.2-2.9 2.9-7.5 2.9-3zM459.3 293.4l4.5 .4 4.5 1.9 2.4 2.3 1.6 3 1.2 4.5 .4 4.5 -1.6 19.5 -25.5 0 .1-21 1-7.5 1.5-3 2.4-2.3 6.4-2.2z"/>
<path fill="#adff00" fill-rule="evenodd" d="M285.1 38.5l3 3.1 1.7 7.4 -1.6 6 -1.6 1.7 -1.5 .4 -1.5-.5 -1.5-2 -1.5-7.1 .4-4.5 1.1-3 2.5-1.5zM698 61.5l1.5 2.9 -.4 5.6 -1.1 1.8 -.6-1.8 -.4-4.5 .6-3zM166.6 104.3l6 .2 4.5 1.3 4.1 3.2 1.4 3 0 3 -1 2.5 -5.9 8 1.2 6 -.5 1.5 -1.8 1.5 -2 .5 -4.4-.5 -2.2-1.5 -1.9-6 -8.6-7.5 -2.6-4.5 .3-3 2.8-3.8 3.8-2.2 5.4-1.5zM618.4 110.3l1.8 3.2 .6 7.5 2 7.5 -1.4 4.1 -1.5 .8 -1.5-.3 -1.5-1.6 -.8-3 -.1-13.5 .9-3.7 1.1-.8zM232.6 181.9l1.5-.6 1.5 .5 1.5 1.5 1.4 3.7 -.3 7.5 -2.6 4.3 -1.5 .5 -1.5-.5 -1.5-1.8 -1.3-4 .1-6 2.1-4.5zM340.7 195.3l3-.1 1.5 1 2.4 4.3 .3 6 -1 3 -1.7 2.3 -1.5 .8 -3-.3 -1.5-1.3 -1.7-3 -.6-3 .3-4.5 2.5-4.5zM265.6 253.9l3 .4 4 4.7 4.2 9 -.2 4.5 -6.5 12.7 -3 2.5 -3-1.7 -7.5-11 -1.5 .2 -1.1 13.8 -2.9 13.5 -6.2 16.5 -5.4 10.5 -14.4 0 -2-12 -.1-7.5 1.7-13.5 3.6-13.5 5-12 5.3-6.9 4.5-2.1 4.5 .8 7.5 7.9 7-13.2 2.6-3zM535.8 257.2l4.5-.1 6 1.5 15.1 9.2 6-2 7.5 1.2 3-1.4 6.4-5.1 4.1-1.9 4.5-.9 6 .6 21 7.7 6 3.3 3 2.9 2.3 3.3 1.9 7.5 -.3 6 -2.2 6 -3.2 3.3 -4.5 1.3 -4.5-1.8 -9-10.9 -6-3.2 -13.5-.2 -12-3.9 -7.5 4 -4.5 1.5 -3 3.7 -13.4 27.2 -10.8 13.5 -30.6 0 -5.6-12 -1.9-6 -.8-6 .3-7.5 2-7.5 2.6-6 5.6-9 6-6.9 5.7-5.1 6.3-3.8 6.1-2.2zM316.7 263.6l1.5 0 1.5 1.1 2.8 4.8 8.3 22.5 2.6 18 -.5 19.5 -41.7 0 .3-28.5 7.4-24 1.3-3 1.5-1.6 1.5-.5 4.5 2.9 1.5 .5 1.5-.6 4.6-9.7zM737 264.6l3-.8 7.5 1.4 0 64.3 -36.6 0 .1-15 3.3-33 1.7-6.8 1.5-3 1.5-.6 7.5 7.1 3-.2 2.1-2.5 3-7.5 1.9-3zM454.8 294.8l4.5-1 4.5 .5 4.5 2 2.8 3.2 1.6 4.5 .7 4.5 -1.5 21 -24.7 0 -.4-7.5 1.1-19.5 2.4-4.9 3.9-2.6z"/>
<path fill="#bfff00" fill-rule="evenodd" d="M168.1 106l4.5 .4 3.1 1.1 3.4 3 .8 3 -.9 3 -1.9 2.4 -4.5 3 -3 .8 -4.6-.5 -4.5-1.9 -2.9-2.3 -1.8-3 .2-3 2.4-3 3.6-1.9 5.3-1.1zM618.4 113.9l1.2 7.1 2.6 7.5 -.8 3.3 -1.5 .9 -1.5-.4 -1.5-2.3 0-13.5 .6-1.5zM232.6 185.1l1.5-.8 1.5 .8 1 1.9 .4 4.5 -1.4 3.8 -1.5 .9 -1.5-.8 -1.1-2.4 -.3-4.5 1.1-3zM340.7 198.9l1.5-.7 1.5 .3 1.8 2 .8 4.5 -1.1 3.6 -1.5 1.4 -1.5 .2 -2.5-2.2 -.9-4.5 1.8-4.5zM265.6 254.9l3 .4 2.1 2.2 4.2 7.5 1.3 4.5 -.9 4.5 -6.7 11.8 -1.5 .8 -3-1.8 -5.7-9.3 -1.5-4.5 .5-3 6.8-12zM532.8 258.6l7.5-.7 4.5 1.1 4.5 2.3 4.9 3.7 4 4.5 2.9 4.5 1.5 4.5 -.1 4.5 -1.8 7.5 -7.7 18 -6.2 10.5 -8.7 10.5 -29.3 0 -5.1-10.5 -3.2-12 .1-7.5 1.2-6 2.9-7.5 4.3-7.5 4.4-6 7.4-7.3 4.6-3.2 6.4-3zM589.9 260l4.5-.6 5.2 1.1 11.3 6.6 10.5 3.9 4.5 3 4.1 6 1.2 6 -.5 4.5 -1.1 3 -3.7 3.7 -3 .6 -3.7-1.3 -8.3-10.2 -4.5-3.2 -4.5-1.2 -10.5-.4 -3.7-1.5 -4.1-3 -2.7-4.5 .4-4.5 2.9-4.5 4.4-3zM241.6 263.4l3-.4 2 .5 2.5 1.7 2.1 2.8 2.2 6 .2 9 -.7 7.5 -3.5 15 -5.4 13.5 -5.4 10.5 -12.6 0 -2.1-12 -.2-6 1.7-15 4.2-15 5.5-12 3.5-4.2 2.8-1.8zM316.7 264.7l1.5-.2 3 3.5 9.2 24 2.6 18 -.4 19.5 -40.9 0 .3-28.5 7.5-24 1.6-3 2.1-1.2 4.5 2.9 1.5 .4 1.5-.5 5.6-10.6zM738.5 264.8l3-.2 6 1.3 0 63.6 -36 0 .2-15 2.1-24 2.2-13 1.5-3.2 1.5-1.1 1.5 .6 6 5.6 3-.2 3-3.9 3-7.8 2.5-2.5zM456.3 294.8l4.5-.6 4.5 1 4.2 2.8 1.8 3 1.3 4.5 .3 4.5 -1.5 19.5 -23.7 0 -.5-7.5 1.1-19.5 2.2-4.5 5-3z"/>
<path fill="#d1ff00" fill-rule="evenodd" d="M163.5 108.8l6.1-.7 3.5 .9 2.2 1.5 .9 1.5 -.1 3 -2 2.4 -3 1.5 -6.1 .1 -4.7-2.5 -1.3-2.9 .4-1.6 3.7-3zM618.4 123.7l1.5 .8 1.5 2.5 0 3.5 -1.5 1.4 -1.5-.4 -.9-1.5 -.2-3 1-3zM265.6 255.9l2.5 .1 2 1.8 3.4 5.7 2 6 -1 4.5 -5.9 10.5 -1.5 .9 -1.5-.4 -1.5-1.5 -4.7-8 -1.5-4.5 1-4.5 4-7.5 2.5-3zM534.3 259l4.5-.4 4.5 .8 4.5 2 4.5 3.3 6 7.8 1.7 4.5 .8 4.5 -1.6 10.5 -6.8 16.5 -5.1 9 -9.9 12 -28 0 -5.7-12 -1.9-6 -.8-6 .4-7.5 2-7.5 3.6-7.5 4.8-7.5 10.5-10.6 6-3.7 5.9-2.2zM589.9 261.9l4.5-.7 4.5 1 4.2 2.8 7.8 8 9 2.4 4.5 2.4 3 3.6 1.5 4.7 -.8 5.9 -2.5 3 -4.2 .5 -3-2 -6-9.5 -3-3.3 -3-1 -13.5-.2 -6-3.2 -2.6-3.8 -.1-4.5 1.6-3 3.9-3zM241.6 264.4l4.5-.1 4 3.7 2.4 7.5 .2 9 -.9 7.5 -3.8 15 -4.9 12 -5.4 10.5 -10.9 0 -2.1-12 -.2-7.5 1.6-13.5 3.8-13.5 5.3-12 2-3 3.2-3zM316.7 265.8l1.5-.3 3.1 4 8.9 23.6 2.4 16.9 -.4 19.5 -40 0 .4-28.5 7-22.5 2.1-4 1.5-.8 4.5 2.8 1.5 .4 1.5-.5 1.9-2.4 3.5-7.5zM738.5 265.6l3-.2 6 1.3 0 62.8 -35.3 0 .1-15 1.2-9 .8-15 1.7-10.5 1.5-3.1 1.5-1.2 1.5 .2 6 5 3-.4 3-3.9 4.6-10.1zM457.8 294.8l4.5 0 4.5 1.6 2.1 1.6 1.9 3 1.3 4.5 .4 4.5 -1.5 19.5 -22.9 0 -.5-7.5 1.1-19.5 1.2-3 1.9-2.2 5.3-2.3z"/>
<path fill="#e4ff00" fill-rule="evenodd" d="M166.6 111.6l3.6 .4 .9 1.5 -1.5 1.6 -3.9-.1 -1.2-1.5 .8-1.5zM618.4 126.2l1.5 0 1 2.3 -.2 1.5 -.8 1 -1.5-.7 -.3-3.3zM265.6 256.7l1.5-.3 1.5 .7 1.5 1.8 3.4 6.1 1.3 4.5 -1 4.5 -5.2 9.2 -1.5 1 -1.5-.4 -1.5-1.6 -3.8-6.7 -1.5-4.5 .9-4.5 5.1-9zM532.8 260.1l4.5-.8 4.5 .5 7.7 3.7 3.3 3 3.4 4.5 2.5 6 .8 4.5 -.3 6 -1.3 6 -6.1 15 -5.2 9 -9.8 12 -26.7 0 -5.2-10.5 -2.5-7.5 -.7-4.5 .1-7.5 1.3-6 2.7-7 4.5-7.8 4.5-5.8 6-5.9 4.8-3.5 6.1-3zM591.4 263.4l3-.4 3 .7 2.3 1.3 2.7 3 1.3 4.5 -1.5 3 -1.8 1.1 -3 .8 -4.5-.4 -4.8-3 -1.5-3 .1-3 1.7-2.7 2.7-1.8zM243.1 264.9l3 .5 1.5 1 2.8 4.6 1.5 7.5 -.3 9 -4 18 -5.5 13.5 -5.4 10.5 -8.9 0 -2.3-13.5 .2-10.5 1.8-12 5.1-15.2 4.5-8.9 3-3.1 2.8-1.3zM740 266.2l7.5 1.2 0 62.1 -34.6 0 0-13.5 1.2-10.5 .5-12 2.4-13.5 2-2.2 1.5 .1 6 4.6 3-.5 3-4 4.4-10 1.8-1.5zM316.7 267.1l1.5-.4 3 3.8 6 14.9 2.9 9.6 2 15 -.2 19.5 -39.2 0 .5-28.5 7-22.4 1.5-2.9 1.5-1 4.5 2.6 3 0 1.7-1.8 3.7-7.5zM619.9 282l3 .5 2.9 3.5 .1 4.1 -1.5 2.2 -3 0 -2-1.8 -1.6-4.5 .7-3zM454.8 296.1l4.5-1 4.5 .5 4.5 2.4 2 3 1.4 4.5 .4 4.5 -1.6 19.5 -21.9 0 -.5-7.5 .7-18 1.6-4.5 3.5-3z"/>
<path fill="#f6ff00" fill-rule="evenodd" d="M267.1 257.2l1.5 .8 2.8 4 2.8 7.5 -.5 3 -2.8 6 -2.3 3.4 -1.5 1 -1.5-.4 -2.1-2.5 -2.4-4.5 -1.5-4.5 .8-4.5 3.7-7.2 1.9-1.8zM534.3 260.5l7.5 .1 4.5 1.8 4.5 3.3 5.1 6.8 1.7 4.5 1 6 -1.5 10.5 -5.9 15 -5.2 9 -9.9 12 -25.4 0 -5.8-12 -1.9-6 -.7-6 .4-7.5 1.6-6.2 3-6.8 4.5-7.2 4.5-5.4 6.4-5.9 5.6-3.6 5.9-2.4zM241.6 266.4l3-.4 1.5 .5 3 3.7 1.7 6.8 -.1 10.5 -2.4 12 -2.2 7.4 -10.6 22.6 -6.6 0 -2.4-13.5 0-12 1.8-10.5 4.3-12.9 4.5-9.6 4.4-4.5zM591.4 265.9l1.5-.6 3 .2 3 2.3 .9 3.2 -.5 1.5 -1.6 1.5 -3.3 .6 -4.1-2.1 -1.1-3 1.3-3zM738.5 267.7l3-.6 6 1.1 0 61.3 -33.7 0 -.2-13.5 1.1-9 .4-13.5 2.2-12 1.7-1.9 1.5 0 6 5.1 1.5 .4 3-3 7.2-14.1zM316.7 268.6l1.5-.6 3 3.9 8 21.6 2.5 16.5 -.2 19.5 -38.3 0 .6-28.5 6.4-20.6 1.5-3.4 1.5-1.2 4.5 2.3 3 0 2.3-2.6 3.1-6zM456.3 296.1l4.5-.6 4.2 1 2.6 1.5 2.3 3 1.3 4.5 .4 4.5 -1.6 19.5 -20.8 0 -.7-7.5 .8-18 1.6-4.5 4.1-3z"/>
<path fill="#fff600" fill-rule="evenodd" d="M265.6 258.5l1.5-.4 2.7 2.4 2.4 4.5 1.3 4.5 -1.2 4.5 -3.7 6.7 -1.5 1 -1.5-.4 -1.1-1.3 -2.6-4.5 -1.6-4.5 .8-4.5 4.1-7.5zM532.8 261.8l4.5-.9 4.5 .5 4.5 1.9 3 2.2 5.6 7 2.1 6 .7 4.5 -1.3 10.5 -5.9 15 -5.1 9 -9.9 12 -24.1 0 -5.8-12 -1.9-6 -.8-6 .2-6 1.9-7.5 2.3-5.6 4.5-7.4 4.5-5.5 5.9-5.5 10-6zM241.6 267.7l3-.5 1.5 .7 2.2 3.1 1.6 7.5 -.4 10.5 -2.2 10.5 -2.7 8.2 -10.9 21.8 -3.1 0 -1-3.7 -2.5-15.8 .4-9 2-9 3.1-8.9 4.5-10.1 4-5zM738.5 269.3l3-1.2 6 .9 0 60.5 -32.8 0 -.2-15 .9-7.5 .3-13.5 1.8-9.6 1.5-2.4 1.5-.1 6 5.8 1.5 .8 1.5-.7 8.9-17.8zM316.7 270.3l1.5-.7 3 3.8 7.5 20.3 2.3 14.8 .1 21 -37.3 0 .4-27 6-20.3 1.5-3.6 1.5-1.6 4.5 2 3-.1 1.9-1.9 3.6-6zM457.8 296.2l3-.2 4.5 1.1 3 2.2 1.7 3.2 1.1 9 -1.6 18 -19.7 0 -.9-7.5 .8-18 2.1-4.8 4.6-2.7z"/>
<path fill="#ffe400" fill-rule="evenodd" d="M267.1 258.9l3 3.2 2.7 7.4 -2.6 7.5 -1.6 2.5 -1.5 1 -1.5-.5 -2.2-3 -2.4-7.5 3.1-7.9 1.5-2.1 1.3-.5zM535.8 262l4.5 0 3 .9 4 2.1 3.5 3 4.4 7.5 1.7 9 -1.7 10.5 -5.9 14.6 -4.6 7.9 -9.9 12 -22.7 0 -6.3-13.2 -1.8-6.3 -.5-6 .5-6 1.8-6.4 3-6.4 4.5-6.9 4.5-5.1 6-5.2 7.3-4.5 4.5-1.5zM241.6 269.2l3-.5 1.5 1 1.5 2.8 1.2 7.5 -.5 9 -3.7 15 -3 6.6 -7.5 12.5 -1.5 .9 -1.5-2.6 -3-11.5 .1-8.9 1.4-6.7 3-8.6 6-13 2.7-3.2zM741.5 269.4l6 .6 0 59.5 -31.3 0 -.8-15 1-21 1.6-7.5 1-2.2 1.5-.5 6 6 1.5 1 1.5-.1 6-13.3 3.8-5.9 1.9-1.5zM316.7 271.9l1.5-.6 1.5 1.2 1.5 2.6 7.5 21.1 1.7 10.8 .2 22.5 -36.3 0 .6-27 5.3-18.3 3-5.7 1.5 0 4.5 1.8 1.5-.4 5.5-7.4zM459.3 296.4l3 .3 4.5 1.9 2 2.4 1.1 3 .7 9 -1.7 16.5 -18.5 0 -.9-7.5 .8-18.5 1.5-3.5 1.5-1.5 5.5-2z"/>
<path fill="#ffd100" fill-rule="evenodd" d="M265.6 260.5l1.5-.6 1.5 1.1 3.3 7 -.3 4.1 -3 6.1 -1.5 1.1 -1.5-.6 -2.1-3.2 -1.6-4.5 0-3 3.7-7.5zM534.3 263.5l4.5-.6 3 .5 3.8 1.6 3.7 2.8 3 3.8 2 3.9 1.7 9 -1.5 10.5 -5.2 13.5 -4.5 7.9 -10.7 13.1 -21.2 0 -6-12 -2.3-7.5 -.5-6 .7-6 1.7-6 2.3-5.3 4.5-7 4.5-5.2 6-5.1 10.5-5.9zM243.1 270.8l1.5 .3 2 4.4 .5 6 -.6 10.5 -1.9 7.8 -3 7 -3 4.5 -3 2.1 -3 .1 -3-3 -.8-5 .5-6 3.3-11.3 7.5-14.5 2.6-2.7zM744.5 270.8l3 .5 0 58.2 -28.4 0 -2.7-13.5 .8-22.5 1.8-6.9 1.5-1 6 5.6 1.5 .8 1.8 0 1.5-1.5 4.2-12 7.9-7.5zM316.7 273.3l1.5-.4 2.2 2.6 5.3 13.3 2.8 9.2 1.4 9 .3 22.5 -35.3 0 .8-27 4.5-16.2 3-5.8 1.5-.4 4.5 1.4 1.5-.4 5.4-7.1zM456.3 297.6l4.5-.6 3.9 1 2.3 1.5 1.8 3 1.2 4.5 .1 4.5 -1.9 18 -16.9 0 -1.2-7.5 .4-16.5 1.3-4.6 3.5-2.9z"/>
<path fill="#ffbf00" fill-rule="evenodd" d="M265.6 261.7l1.5-.7 1.5 1.1 2.6 5.9 0 3 -2.6 5.8 -1.5 1.2 -1.5-.7 -3-6.3 0-3 2.9-6zM535.8 264.6l3-.4 4.2 .8 6.3 4.3 3 4.2 1.5 3.5 1.4 9 -1.4 9 -6 15 -4.5 7.5 -10 12 -19.6 0 -6.4-12.9 -2-6.6 -.5-6 .7-6 1.8-6 6-10.8 4.5-5.3 4.5-3.9 6-4 6.3-3zM316.7 274.6l1.5-.3 2.1 2.7 4.7 12 3.2 10.5 1 6 .6 24 -34.3 0 .9-25.5 3.8-15.2 3-5.6 1.5-.6 3 1.3 1.5-.1 3-2.8 3.7-5.5zM737 278.5l3-.6 4.5 2.3 3 5.5 0 43.8 -25.6 0 -4.5-13.5 .6-19.5 1-6.4 1.5-1.8 7.5 5.2 3-.5 1.5-2.5 2.5-9 2-3zM238.6 282.8l3-.8 1.5 .9 1.5 2.7 .5 4.9 -2.5 10.5 -3.1 6 -2.4 2.9 -3 1.2 -2.9-1.1 -1.3-3 -.2-3 .8-6 2.1-7.2 3-5.5 2.8-2.3zM457.8 297.8l4.5 0 3 1.2 2.1 2 1.3 3 .7 9 -.6 9 -1.5 7.5 -15 0 -1.5-7.5 .6-18 1.9-3.9 3.8-2.1z"/>
<path fill="#ffad00" fill-rule="evenodd" d="M265.6 263.3l1.5-1 1.5 1.2 1.5 3.4 .2 4.1 -1.7 3.9 -1.5 1.6 -1.5-.8 -2-4.7 -.1-3 2-4.5zM537.3 266.3l6 .4 3 1.6 3.1 2.7 2.7 4.5 1.5 4.5 .6 9 -2.1 9 -5.8 13.5 -3.8 6 -10 12 -17.9 0 -4.9-9 -2.8-7.5 -1.1-4.5 -.2-6 1.1-6 2.1-6.1 3-5.4 4.5-6 9-7.6 11.2-4.9zM316.7 275.8l1.5-.1 1.9 2.8 4.7 12 3.2 10.5 1.3 18 0 10.5 -33.1 0 1.2-25.5 2.8-12.4 3-5.7 1.5 .1 3 3 1.5-1.3 6.4-10.7zM738.5 279.8l2.8 1.7 6.2 6.7 0 41.3 -24 0 -5.1-13.5 .6-17.7 1.5-6.3 1.5-.3 6 3 3-.3 2.1-2.4 2.4-9.2 1.5-2.4 1-.4zM238.6 285.4l3 .5 1.2 1.6 .5 4.5 -2.4 9 -2.5 4.5 -2.8 3 -1.5 .5 -1.7-.5 -1.3-2.2 -.2-3.8 3.1-12 3.3-4.5zM456.3 299.1l4.5-.7 3.9 1.1 2.1 1.8 1.5 3.6 .5 5.1 -.5 9.7 -2.1 9.8 -12.5 0 -2-7.5 0-15 .9-4.5 2.8-3z"/>
<path fill="#ff9b00" fill-rule="evenodd" d="M267.1 264.2l1.5 1.6 .8 3.7 -.8 2.8 -1.5 2 -1.5-1 -1.2-3.8 1.7-4.5zM534.3 269.1l7.5-.7 3 .9 3 2.2 3 4 1.3 3 1.3 9 -1.7 9 -5.4 13.4 -4.5 7.3 -8.4 9.3 -1.8 3 -15.9 0 -6.9-13.5 -1.9-6 -.5-6 .8-6 1.6-5.2 6-10.3 4.5-5.1 4.5-3.6 9.3-4.3zM316.7 277.2l1.5 0 1.5 2.2 3.9 9.6 3.8 12 1.4 18 0 10.5 -31.9 0 1.4-25.5 2.1-10.5 2.8-4.4 4.5 2.6 1.5-1.5 6.3-11.7zM737 282.7l1.5-.8 1.5 .8 7.5 7.1 0 39.7 -22.8 0 -5.3-13.5 .2-12 1.8-7.5 2.1-1.3 6 .6 3-.8 1.9-3 2.4-9zM237.1 288.6l1.5-.8 1.5 .3 1.3 2.4 .1 1.5 -1.4 6 -4.5 7.4 -1.5 .5 -.6-.4 -.9-3.5 1.5-7.7 2.6-5.3zM459.3 299.4l3 .2 3 1.5 1.5 2.4 .8 3.5 -.8 14.6 -2.5 7.9 -8.3 0 -2.7-7.4 -.1-18.1 1.9-3 3.5-1.5z"/>
<path fill="#ff8900" fill-rule="evenodd" d="M534.3 270.8l7.5-.3 3 1.1 3 2.3 3.4 6.1 1.1 9 -2 9 -5.5 13.1 -3 4.9 -8.3 9 -3.1 4.5 -13.5 0 -5.1-8.8 -3.1-7.7 -1.2-4.5 -.2-4.5 .9-6 2-6 6.1-9.7 7.5-7 4.5-2.6 5.3-1.7zM316.7 278.7l1.5 .3 3 5.5 5.6 16.5 1.5 28.5 -30.7 0 1.5-25.5 2.4-10.5 1.7-1.9 4.6 1.9 1.4-1.4 6.4-12.1zM738.5 284.7l9 6.5 0 38.3 -21.7 0 -5.4-13.5 0-10.5 1.6-6.1 3-2.5 6-.2 3-1.1 1.4-2.1 1.9-7.5zM457.8 302.3l4.5-.4 1.5 .6 1 1.5 .7 6 -.2 1.6 -1.5 2 -4.5-.8 -3-2.7 -.5-4.6 1.6-3z"/>
<path fill="#ff7600" fill-rule="evenodd" d="M534.3 272.4l7.5 0 5.1 3.1 2.4 3.7 1.3 3.8 .5 7.5 -3.3 11.9 -4.5 9.6 -4.5 6.1 -6.9 6.9 -2.9 4.5 -10.5 0 -5.2-8.7 -3.9-9.3 -1-4.5 .1-4.5 2.9-10.5 5.8-9 8.1-7.1 8.5-3.4zM316.7 280.6l1.5 .4 3 5 5.1 15 1.5 28.5 -29.5 0 1.5-24 1.9-9.2 1.5-2.4 4.5 1.3 1.5-1.4 6.8-12.3zM740 289.1l7.5 3.6 0 36.8 -20.5 0 -6-15 .4-9 2.1-5.8 3-1.9 9-.6 2-2.2 1.1-4.5z"/>
<path fill="#ff6400" fill-rule="evenodd" d="M535.8 273.8l6 .6 3 1.7 2.1 2.4 2.8 7.5 -.3 7.5 -3.2 10.5 -4.4 8.6 -4.5 5.4 -7.8 7 -2.8 4.5 -5.8 0 -4.6-7.6 -5.9-11.9 -.8-4.5 .3-4.5 3.4-10.4 5.5-7.6 7.4-6 8.2-3zM316.7 282.6l1.5 .2 3 4.6 4.5 13.6 1.6 28.5 -28 0 .1-7.5 1.2-7.5 0-9 1.8-7.5 .8-1.7 4.5 .2 1.5-1 4.5-9.2 2.6-3.3zM744.5 294.2l3 .9 0 34.4 -19.1 0 -1.2-4.5 -5.2-10.5 .3-9 .8-3 1.9-2.7 3-1.3 4.5 .3 2 .7 4 3.9 1.5 .5 2.1-2.9 1.3-6z"/>
<path fill="#ff5200" fill-rule="evenodd" d="M531.3 276.7l7.5-.9 4.5 1.8 3.7 5.4 1.2 7.5 -2.1 10.5 -4.3 9.5 -4.5 5.7 -7.5 4.7 -3 .7 -3-.4 -4.5-2.8 -6.1-6.9 -1.4-3 -.7-4.5 1.6-9 3.9-7.5 5.7-6.1 8-4.4zM316.7 284.1l1.5 .2 2.4 3.2 4.6 13.5 1.6 28.5 -26.4 0 .2-7.5 1.1-7.5 -.2-9 1.4-6 1.8-2 3 .2 1.5-.7 4.5-9.5 2.6-3zM728 299.3l3.3 .2 2.6 1.5 1.9 3 2.7 7.9 3 .8 6-.5 0 17.3 -16.1 0 -1.5-6 -6.2-7.5 -.8-3 .7-9 1.6-3 2.3-1.5z"/>
<path fill="#ff4000" fill-rule="evenodd" d="M534.3 278.3l6 .9 3 2.6 2.6 5.7 .3 7.5 -1.7 7.5 -4.2 8.2 -4.5 4.9 -6 2.7 -3 .1 -3-.9 -6.4-4.5 -3.9-6 -.7-6 1.9-7.5 4.6-7.4 6-5 7.7-2.6zM316.7 285.3l1.5 .1 1.8 2.1 4.7 13.5 1.5 28.5 -21.9 0 .6-10.5 -1.9-7.5 -.5-6 .5-3 1.7-3.2 4.5-.7 4.2-9.6 2.4-3zM728 300.3l4.1 .7 2.7 4.5 .7 9 -.8 1.5 -2.2 1.5 -4.5 .4 -2.8-1.9 -1-1.5 -.3-7.5 1.1-3.9 1.6-2.1z"/>
<path fill="#ff2e00" fill-rule="evenodd" d="M528.3 281.4l6-.9 4.5 1.3 4.1 4.2 1.8 6 -.2 6 -2.7 8 -4.5 6.5 -4.5 3.1 -6 .9 -4.5-1.7 -5.3-4.8 -2.5-6 .2-6 2.8-7.5 4.8-5.7 5.7-3.3zM315.2 287.5l1.5-1.2 1.5 .2 1.5 1.7 4.1 11.3 .7 4.5 0 12 1.2 13.5 -17.1 0 -.1-13.5 -.8-3 -1.5-.6 -1.5-1.9 -.6-6.5 .6-1.7 1.5-1.2 3-.5 1.5-2.4 2.5-7.7 1.9-3zM726.5 302.5l3-1.4 3 2 1.6 5.4 -.8 6 -1.9 1.5 -1.9 .5 -2.1-.5 -1.8-1.5 -1-6 1.9-6z"/>
<path fill="#ff1b00" fill-rule="evenodd" d="M528.3 282.8l4.5-.7 4.5 1.1 3.4 2.8 2.6 6 0 6 -2.4 7.5 -3.6 5.3 -4.5 3.4 -3 .9 -3 0 -4.5-1.8 -4.5-4.8 -2-6 .5-6 2.6-6 3.9-4.5 5.1-3zM316.7 287.3l1.5 .2 1.5 1.9 3.9 11.6 .2 15 1.3 13.5 -15.3 0 -.4-25.5 3.7-12 3.3-4.5zM729.5 302.4l1.5 .8 1.3 2.3 .6 4.5 -.6 3 -1.1 1.5 -1.7 .6 -1.5-.2 -1.5-1.3 -1-3.6 1-5.3 1.5-1.9 1.1-.3z"/></g>
<rect x="99.65" y="31.45" width="648.5" height="299.1" fill="none" stroke="#000" stroke-width="2.8"/>
<path d="M180.30 329.2V321.40M180.30 32.8V40.60M261.40 329.2V312.70M261.40 32.8V49.30M342.50 329.2V321.40M342.50 32.8V40.60M423.60 329.2V312.70M423.60 32.8V49.30M504.70 329.2V321.40M504.70 32.8V40.60M585.80 329.2V312.70M585.80 32.8V49.30M666.90 329.2V321.40M666.90 32.8V40.60M101 98.10H108.50M746.8 98.10H739.30M101 165.70H116.50M746.8 165.70H731.30M101 233.30H108.50M746.8 233.30H739.30M101 300.90H116.50M746.8 300.90H731.30" stroke="#000" stroke-width="2.8" fill="none"/>
<g fill="none" stroke="#fff" stroke-width="2.8" stroke-dasharray="14.3 15.3">
<path d="M98.2 130.6H225.5V328H98.2" stroke-dashoffset="1.6"/>
<path d="M98.2 130.6V328" stroke-dashoffset="-5"/>
<path d="M333.4 134H461V330.5H333.4" stroke-dashoffset="0.4"/>
<path d="M333.4 134V331" stroke-dashoffset="-5"/>
<path d="M583.7 136.5H712.3V345" stroke-dashoffset="0.5"/>
<path d="M583.7 136.5V334" stroke-dashoffset="-5.2"/>
</g>
<text x="99.7" y="370.5" font-size="27" text-anchor="middle">0.0</text>
<text x="261.9" y="370.5" font-size="27" text-anchor="middle">0.3</text>
<text x="424.1" y="370.5" font-size="27" text-anchor="middle">0.6</text>
<text x="586.3" y="370.5" font-size="27" text-anchor="middle">0.9</text>
<text x="748.5" y="370.5" font-size="27" text-anchor="middle">1.2</text>
<text x="80" y="38.8" font-size="27" text-anchor="end">0.09</text>
<text x="80" y="173.7" font-size="27" text-anchor="end">0.06</text>
<text x="80" y="307.8" font-size="27" text-anchor="end">0.03</text>
<text x="419.5" y="408" font-size="37" text-anchor="middle">x(m)</text>
<text transform="translate(27.5 180.5) rotate(-90)" font-size="37" text-anchor="middle">z(m)</text>
<text x="126" y="118" font-size="31" letter-spacing="0.4">0.23m</text>
<rect x="800" y="38.05" width="54" height="11.41" fill="#ff1300"/><rect x="800" y="49.06" width="54" height="6.20" fill="#ff2e00"/><rect x="800" y="54.86" width="54" height="6.20" fill="#ff4000"/><rect x="800" y="60.66" width="54" height="6.20" fill="#ff5200"/><rect x="800" y="66.45" width="54" height="6.20" fill="#ff6400"/><rect x="800" y="72.25" width="54" height="6.20" fill="#ff7600"/><rect x="800" y="78.04" width="54" height="6.20" fill="#ff8900"/><rect x="800" y="83.84" width="54" height="6.20" fill="#ff9b00"/><rect x="800" y="89.64" width="54" height="6.20" fill="#ffad00"/><rect x="800" y="95.43" width="54" height="6.20" fill="#ffbf00"/><rect x="800" y="101.23" width="54" height="6.20" fill="#ffd100"/><rect x="800" y="107.02" width="54" height="6.20" fill="#ffe400"/><rect x="800" y="112.82" width="54" height="6.20" fill="#fff600"/><rect x="800" y="118.62" width="54" height="6.20" fill="#f6ff00"/><rect x="800" y="124.41" width="54" height="6.20" fill="#e4ff00"/><rect x="800" y="130.21" width="54" height="6.20" fill="#d1ff00"/><rect x="800" y="136.00" width="54" height="6.20" fill="#bfff00"/><rect x="800" y="141.80" width="54" height="6.20" fill="#adff00"/><rect x="800" y="147.60" width="54" height="6.20" fill="#9bff00"/><rect x="800" y="153.39" width="54" height="6.20" fill="#89ff00"/><rect x="800" y="159.19" width="54" height="6.20" fill="#76ff00"/><rect x="800" y="164.98" width="54" height="6.20" fill="#64ff00"/><rect x="800" y="170.78" width="54" height="6.20" fill="#52ff00"/><rect x="800" y="176.58" width="54" height="6.20" fill="#40ff00"/><rect x="800" y="182.37" width="54" height="6.20" fill="#2eff00"/><rect x="800" y="188.17" width="54" height="6.20" fill="#1bff00"/><rect x="800" y="193.96" width="54" height="6.20" fill="#09ff00"/><rect x="800" y="199.76" width="54" height="6.20" fill="#00ff09"/><rect x="800" y="205.56" width="54" height="6.20" fill="#00ff1b"/><rect x="800" y="211.35" width="54" height="6.20" fill="#00ff2e"/><rect x="800" y="217.15" width="54" height="6.20" fill="#00ff40"/><rect x="800" y="222.94" width="54" height="6.20" fill="#00ff52"/><rect x="800" y="228.74" width="54" height="6.20" fill="#00ff64"/><rect x="800" y="234.54" width="54" height="6.20" fill="#00ff76"/><rect x="800" y="240.33" width="54" height="6.20" fill="#00ff89"/><rect x="800" y="246.13" width="54" height="6.20" fill="#00ff9b"/><rect x="800" y="251.92" width="54" height="6.20" fill="#00ffad"/><rect x="800" y="257.72" width="54" height="6.20" fill="#00ffbf"/><rect x="800" y="263.52" width="54" height="6.20" fill="#00ffd1"/><rect x="800" y="269.31" width="54" height="6.20" fill="#00ffe4"/><rect x="800" y="275.11" width="54" height="6.20" fill="#00fff6"/><rect x="800" y="280.90" width="54" height="6.20" fill="#00f6ff"/><rect x="800" y="286.70" width="54" height="6.20" fill="#00e4ff"/><rect x="800" y="292.50" width="54" height="6.20" fill="#00d1ff"/><rect x="800" y="298.29" width="54" height="6.20" fill="#00bfff"/><rect x="800" y="304.09" width="54" height="6.20" fill="#00adff"/><rect x="800" y="309.88" width="54" height="6.20" fill="#009bff"/><rect x="800" y="315.68" width="54" height="6.20" fill="#0089ff"/><rect x="800" y="321.48" width="54" height="6.20" fill="#0076ff"/><rect x="800" y="327.27" width="54" height="6.20" fill="#0064ff"/><rect x="800" y="333.07" width="54" height="6.20" fill="#0052ff"/><rect x="800" y="338.86" width="54" height="6.20" fill="#0040ff"/><rect x="800" y="344.66" width="54" height="6.20" fill="#002eff"/><rect x="800" y="350.46" width="54" height="11.94" fill="#0012ff"/>
<rect x="801" y="39" width="52" height="322" fill="none" stroke="#000" stroke-width="2"/>
<text x="878.3" y="51.8" font-size="20" letter-spacing="0.6">0.80</text>
<text x="878.3" y="90.4" font-size="20" letter-spacing="0.6">0.60</text>
<text x="878.3" y="129.1" font-size="20" letter-spacing="0.6">0.40</text>
<text x="878.3" y="167.7" font-size="20" letter-spacing="0.6">0.20</text>
<text x="878.3" y="206.4" font-size="20" letter-spacing="0.6">0.0</text>
<text x="878.3" y="245.0" font-size="20" letter-spacing="0.6">-0.20</text>
<text x="878.3" y="283.6" font-size="20" letter-spacing="0.6">-0.40</text>
<text x="878.3" y="322.3" font-size="20" letter-spacing="0.6">-0.60</text>
<text x="878.3" y="360.9" font-size="20" letter-spacing="0.6">-0.80</text>
<path d="M853 45.20H865.5M853 83.84H865.5M853 122.48H865.5M853 161.12H865.5M853 199.76H865.5M853 238.40H865.5M853 277.04H865.5M853 315.68H865.5M853 354.32H865.5" stroke="#000" stroke-width="2.2" fill="none"/>
<text x="795" y="27" font-size="28"><tspan font-style="italic">u</tspan>'(ms<tspan font-size="19.5" dy="-11.8" dx="3">-1</tspan><tspan dy="11.8" dx="0.3">)</tspan></text>
</svg></body></html>
